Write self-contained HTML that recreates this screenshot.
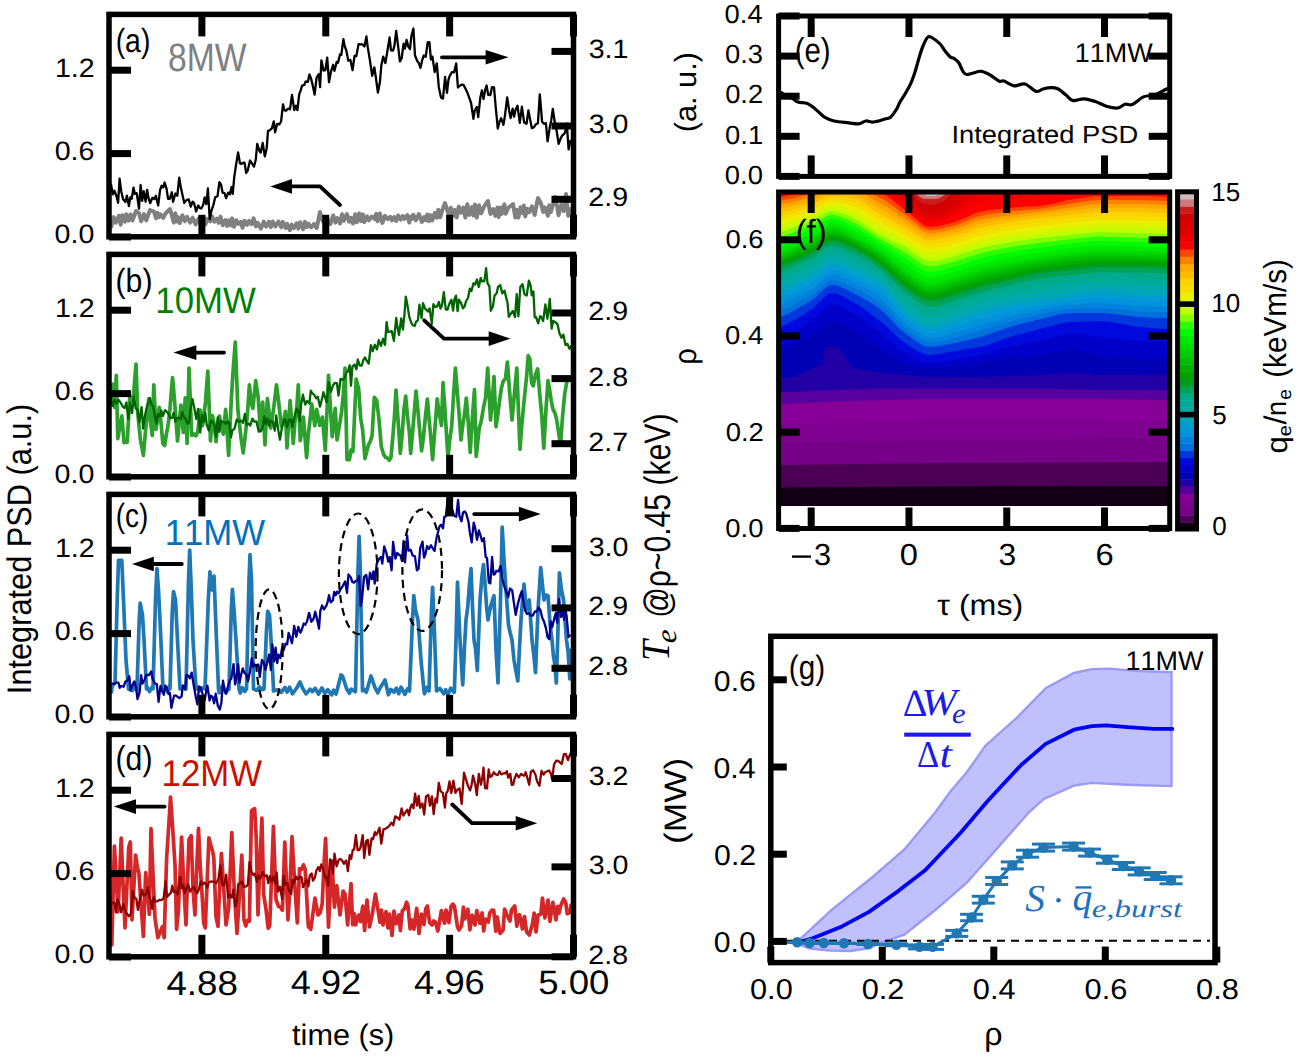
<!DOCTYPE html>
<html><head><meta charset="utf-8"><title>figure</title>
<style>html,body{margin:0;padding:0;background:#fff;width:1298px;height:1058px;overflow:hidden}
text{font-kerning:none;text-rendering:geometricPrecision}</style></head>
<body>
<svg width="1298" height="1058" viewBox="0 0 1298 1058" style="display:block">
<rect x="0" y="0" width="1298" height="1058" fill="#fff"/>
<defs><clipPath id="fclip"><rect x="779" y="192" width="390" height="336"/></clipPath><clipPath id="lclip0"><rect x="109" y="10" width="465" height="960"/></clipPath></defs>
<g clip-path="url(#fclip)"><path d="M780.0,190.0 1170.0,190.0 1170.0,506.0 781.0,506.0 779.0,506.0 779.0,190.0Z" fill="#130015" fill-rule="evenodd"/>
<path d="M780.0,190.0 1170.0,190.0 1170.0,486.0 953.0,486.5 781.0,487.5 779.0,487.5 779.0,190.0Z" fill="#4b0055" fill-rule="evenodd"/>
<path d="M780.0,190.0 1170.0,190.0 1170.0,462.0 949.0,463.0 781.0,465.0 779.0,465.0 779.0,190.0Z" fill="#770088" fill-rule="evenodd"/>
<path d="M780.0,190.0 1170.0,190.0 1170.0,438.0 781.0,442.0 779.0,442.0 779.0,190.0Z" fill="#7f0090" fill-rule="evenodd"/>
<path d="M780.0,190.0 1170.0,190.0 1170.0,421.0 1072.0,419.6 941.0,419.5 867.0,421.3 781.0,425.0 779.0,425.0 779.0,190.0Z" fill="#860097" fill-rule="evenodd"/>
<path d="M780.0,190.0 1170.0,190.0 1170.0,400.0 1098.0,399.0 921.0,399.0 850.8,401.0 781.0,404.0 779.0,404.0 779.0,190.0Z" fill="#58009f" fill-rule="evenodd"/>
<path d="M780.0,190.0 1170.0,190.0 1170.0,390.0 1097.0,390.0 1043.0,388.4 878.0,388.4 790.0,392.0 779.0,392.0 779.0,190.0Z" fill="#2300a6" fill-rule="evenodd"/>
<path d="M780.0,190.0 1170.0,190.0 1170.0,374.0 1143.0,375.0 1099.0,375.0 1077.0,373.2 1068.0,373.0 1040.0,375.0 985.0,376.9 921.0,376.7 875.0,372.0 862.6,370.0 855.0,368.0 851.0,365.8 848.0,362.8 844.0,355.3 839.0,347.7 838.0,347.0 827.0,347.0 826.0,348.0 825.0,350.6 823.0,362.0 821.0,364.2 814.2,368.0 804.0,372.3 797.0,376.0 790.0,378.0 779.0,378.0 779.0,190.0Z" fill="#0000b5" fill-rule="evenodd"/>
<path d="M780.0,190.0 1170.0,190.0 1170.0,358.0 1137.0,358.0 1122.0,357.2 1098.0,354.8 1079.6,351.0 1069.0,350.0 1060.1,351.0 1042.0,354.8 1010.0,358.0 977.0,363.5 955.0,366.0 938.0,368.6 930.0,369.0 925.0,368.7 919.0,367.5 904.0,362.7 899.0,360.5 892.0,356.7 879.0,348.5 864.0,337.0 855.0,331.0 842.5,324.0 838.0,322.1 834.0,321.2 831.0,321.1 828.0,322.0 824.9,324.0 813.0,333.7 801.0,339.7 786.0,345.8 783.0,346.7 779.0,347.0 779.0,190.0Z" fill="#0000c9" fill-rule="evenodd"/>
<path d="M780.0,190.0 1170.0,190.0 1170.0,342.0 1153.0,341.7 1133.0,340.6 1084.0,335.0 1068.0,334.1 1057.5,336.0 1041.0,340.8 1010.0,347.0 985.0,353.8 971.0,357.0 942.2,362.0 930.0,363.0 925.0,362.3 920.7,361.0 914.2,358.0 903.0,351.9 897.0,347.6 880.0,333.0 860.0,317.0 843.4,308.0 838.2,306.0 834.0,305.1 831.0,305.1 827.0,306.7 823.9,309.0 814.0,318.5 810.0,321.4 786.0,337.0 781.0,340.0 779.0,340.0 779.0,190.0Z" fill="#0009dd" fill-rule="evenodd"/>
<path d="M780.0,190.0 1170.0,190.0 1170.0,329.0 1157.0,328.5 1137.0,326.7 1111.5,322.0 1102.0,321.1 1069.0,322.1 1058.0,324.0 1017.0,335.0 1006.0,338.3 987.3,345.0 980.0,347.0 955.0,351.0 938.0,354.3 930.0,355.0 926.0,354.5 922.0,353.2 912.7,348.0 900.8,340.0 882.0,322.6 863.0,308.0 842.5,296.0 838.0,294.1 834.0,293.2 831.0,293.1 827.0,294.9 813.0,308.3 799.0,317.5 784.0,325.7 781.0,327.0 779.0,327.0 779.0,190.0Z" fill="#0038dd" fill-rule="evenodd"/>
<path d="M780.0,190.0 1170.0,190.0 1170.0,318.0 1152.0,317.7 1135.0,316.8 1114.2,314.0 1102.0,313.0 1070.0,313.0 1060.5,314.0 1016.9,325.0 1003.8,329.0 985.0,335.6 971.0,339.5 943.0,345.6 936.0,346.7 930.0,347.0 926.0,346.6 921.0,344.5 915.0,340.6 904.0,332.4 899.0,327.9 883.4,312.0 880.0,309.0 871.2,303.0 861.0,297.0 845.2,289.0 838.1,286.0 835.0,285.4 831.0,285.1 828.0,286.2 824.0,289.1 814.0,298.7 808.0,302.6 789.0,313.4 782.0,316.7 779.0,317.0 779.0,190.0Z" fill="#0070dd" fill-rule="evenodd"/>
<path d="M780.0,190.0 1170.0,190.0 1170.0,312.5 1138.0,311.4 1103.0,308.0 1088.0,308.3 1064.0,309.5 1054.0,311.3 1016.0,320.2 982.0,330.4 959.0,336.8 940.0,341.4 930.0,342.5 925.0,341.6 920.0,339.2 904.0,327.2 898.4,322.0 884.0,306.4 876.0,300.2 861.0,291.6 843.0,282.8 836.0,280.4 831.0,280.1 828.0,281.1 824.0,283.9 814.0,293.1 809.0,296.3 790.0,306.8 781.0,310.8 779.0,310.8 779.0,190.0Z" fill="#0082dd" fill-rule="evenodd"/>
<path d="M780.0,190.0 1170.0,190.0 1170.0,307.0 1138.0,305.9 1102.0,303.0 1090.0,303.4 1064.0,305.6 1034.0,311.2 1012.0,316.0 943.0,335.9 936.0,337.5 930.0,338.0 925.0,337.0 920.0,334.5 904.0,322.2 898.7,317.0 885.0,301.4 878.0,295.6 871.0,291.3 863.0,287.2 843.0,277.8 836.0,275.4 831.0,275.1 828.0,276.1 824.0,278.8 814.0,287.7 809.0,290.8 790.0,300.7 781.0,304.5 779.0,304.5 779.0,190.0Z" fill="#0092dd" fill-rule="evenodd"/>
<path d="M780.0,190.0 1170.0,190.0 1170.0,301.5 1139.0,300.5 1112.0,298.4 1100.0,298.0 1089.0,298.7 1063.0,301.8 1029.0,307.4 1004.0,312.6 978.0,319.6 941.0,331.7 935.0,333.1 930.0,333.5 925.0,332.5 920.0,329.9 904.0,317.2 898.9,312.0 886.0,296.4 882.0,292.5 879.0,290.3 865.9,283.0 843.0,272.7 837.0,270.6 832.0,270.0 828.0,271.0 824.0,273.7 815.0,281.5 810.0,284.6 791.0,294.2 781.0,298.2 779.0,298.2 779.0,190.0Z" fill="#009cd3" fill-rule="evenodd"/>
<path d="M780.0,190.0 1170.0,190.0 1170.0,296.0 1139.0,295.0 1106.0,293.1 1098.0,293.0 1090.0,293.7 1070.0,297.0 1030.0,302.5 1000.0,308.0 977.0,313.9 940.9,327.0 935.0,328.5 930.0,329.0 925.0,328.0 921.0,326.0 915.6,322.0 904.0,312.1 898.3,306.0 887.0,291.7 880.0,285.0 867.1,278.0 843.0,267.6 837.0,265.6 832.0,265.0 828.0,266.0 824.0,268.6 814.0,276.8 809.0,279.6 790.0,288.7 782.0,291.7 779.0,292.0 779.0,190.0Z" fill="#00a4bb" fill-rule="evenodd"/>
<path d="M780.0,190.0 1170.0,190.0 1170.0,290.4 1106.0,287.9 1097.0,287.9 1089.0,288.6 1072.0,291.3 1035.0,296.2 999.0,303.1 977.0,308.7 940.0,321.7 935.0,322.9 930.0,323.4 925.0,322.4 920.0,319.8 904.0,307.0 899.0,301.9 886.0,286.4 882.0,282.5 879.0,280.3 872.0,276.1 865.0,272.5 843.5,263.0 837.0,260.8 832.0,260.2 828.0,261.2 824.0,263.7 815.0,271.1 810.0,274.1 791.0,283.1 781.0,286.8 779.0,286.8 779.0,190.0Z" fill="#00aaa8" fill-rule="evenodd"/>
<path d="M780.0,190.0 1170.0,190.0 1170.0,284.8 1098.0,282.6 1090.0,283.3 1071.0,286.1 1042.0,289.5 1024.0,292.7 987.0,300.7 976.0,303.8 941.0,315.9 935.0,317.4 930.0,317.8 925.0,316.8 920.0,314.3 904.0,301.8 899.0,297.0 885.0,281.3 878.0,275.6 870.0,270.7 862.0,266.5 844.0,258.4 837.0,256.0 832.0,255.4 828.0,256.4 824.0,258.8 815.0,266.1 810.0,269.0 791.0,277.9 781.0,281.6 779.0,281.6 779.0,190.0Z" fill="#00aa98" fill-rule="evenodd"/>
<path d="M780.0,190.0 1170.0,190.0 1170.0,279.2 1097.0,277.5 1041.4,284.0 1027.0,286.6 986.0,295.8 976.0,298.6 941.0,310.4 935.0,311.8 930.0,312.2 927.0,311.8 923.0,310.4 914.0,304.5 901.0,294.0 883.0,275.4 875.0,269.6 867.0,264.6 859.0,260.4 844.0,253.6 837.0,251.2 832.0,250.6 828.0,251.6 824.0,254.0 815.0,261.1 810.0,264.0 791.0,272.8 781.0,276.4 779.0,276.4 779.0,190.0Z" fill="#00aa8b" fill-rule="evenodd"/>
<path d="M780.0,190.0 1170.0,190.0 1170.0,273.6 1143.0,272.6 1097.0,272.3 1041.0,278.5 1029.0,280.7 985.0,290.9 976.0,293.4 941.0,304.8 935.0,306.2 930.0,306.6 927.0,306.3 923.0,304.8 915.0,299.8 901.0,289.0 882.5,271.0 870.0,262.1 857.0,254.7 844.0,248.7 837.0,246.4 832.0,245.8 828.0,246.7 824.0,249.1 815.0,256.2 810.0,259.0 791.0,267.6 781.0,271.2 779.0,271.2 779.0,190.0Z" fill="#00a353" fill-rule="evenodd"/>
<path d="M780.0,190.0 1170.0,190.0 1170.0,268.0 1142.0,267.0 1098.0,267.0 1040.0,273.0 1029.8,275.0 1012.0,279.7 983.9,286.0 941.0,299.4 935.0,300.7 930.0,301.0 926.0,300.6 923.0,299.4 915.0,294.5 899.0,282.4 886.0,270.0 880.0,265.0 865.7,255.0 855.0,249.0 844.1,244.0 838.4,242.0 832.0,241.0 828.0,242.0 823.0,245.0 815.0,251.3 809.0,254.7 791.0,262.7 783.0,265.6 779.0,266.0 779.0,190.0Z" fill="#009d1d" fill-rule="evenodd"/>
<path d="M780.0,190.0 1170.0,190.0 1170.0,265.3 1143.0,264.4 1097.0,264.2 1041.0,270.2 1030.0,272.2 985.0,282.7 941.0,296.3 935.0,297.6 930.0,298.0 924.0,296.7 916.0,292.1 901.0,281.0 882.0,264.0 866.2,253.0 859.0,248.8 846.0,242.5 837.0,239.1 832.0,238.5 828.0,239.4 824.0,241.8 815.0,248.7 810.0,251.5 790.0,260.5 781.0,263.7 779.0,263.7 779.0,190.0Z" fill="#00a200" fill-rule="evenodd"/>
<path d="M780.0,190.0 1170.0,190.0 1170.0,262.7 1143.0,261.7 1097.0,261.4 1042.0,267.4 1028.0,269.9 987.0,279.2 976.0,282.2 941.0,293.3 935.0,294.6 930.0,295.0 924.0,293.7 917.0,289.8 901.0,278.0 882.0,261.5 867.0,251.2 859.0,246.6 845.0,239.7 836.0,236.4 832.0,236.0 828.0,236.9 824.0,239.3 814.0,246.8 809.0,249.5 790.0,258.1 781.0,261.3 779.0,261.3 779.0,190.0Z" fill="#00af00" fill-rule="evenodd"/>
<path d="M780.0,190.0 1170.0,190.0 1170.0,260.0 1142.0,259.0 1097.0,258.6 1088.0,259.2 1044.0,264.4 1027.0,267.3 989.0,275.7 977.0,278.9 941.0,290.3 935.0,291.6 930.0,292.0 924.0,290.7 917.0,286.7 901.0,275.1 882.0,258.9 868.6,250.0 860.0,245.0 845.0,237.4 836.0,234.0 832.0,233.5 828.0,234.4 824.0,236.7 814.0,244.3 809.0,247.0 790.0,255.7 781.0,259.0 779.0,259.0 779.0,190.0Z" fill="#00bf00" fill-rule="evenodd"/>
<path d="M780.0,190.0 1170.0,190.0 1170.0,257.3 1141.0,256.4 1097.0,255.7 1087.0,256.5 1047.0,261.4 1026.0,264.7 992.0,272.0 977.0,275.9 941.0,287.3 935.0,288.6 930.0,289.0 927.0,288.7 924.0,287.7 918.0,284.4 901.0,272.1 882.8,257.0 870.0,248.5 844.0,234.5 836.0,231.5 832.0,231.0 828.0,231.9 824.0,234.2 814.0,241.8 809.0,244.5 789.0,253.7 781.0,256.7 779.0,256.7 779.0,190.0Z" fill="#00cc00" fill-rule="evenodd"/>
<path d="M780.0,190.0 1170.0,190.0 1170.0,254.7 1098.0,252.9 1087.0,253.7 1052.0,258.0 1025.7,262.0 996.0,268.0 978.0,272.6 941.0,284.3 935.0,285.6 930.0,286.0 927.0,285.6 924.0,284.7 918.0,281.4 900.0,268.4 883.0,254.6 871.3,247.0 843.0,231.7 835.0,228.8 831.0,228.6 828.0,229.4 824.0,231.7 814.0,239.3 809.1,242.0 789.0,251.3 781.0,254.3 779.0,254.3 779.0,190.0Z" fill="#00dc00" fill-rule="evenodd"/>
<path d="M780.0,190.0 1170.0,190.0 1170.0,252.0 1122.0,250.3 1097.0,250.0 1089.0,250.5 1057.0,254.5 1024.0,259.4 998.0,264.4 978.0,269.4 942.0,281.0 938.0,282.0 930.0,283.0 925.0,282.0 919.0,279.0 902.0,266.9 885.0,253.4 873.0,245.6 843.0,229.2 836.0,226.4 831.0,226.0 827.0,227.3 812.0,238.0 791.1,248.0 781.0,252.0 779.0,252.0 779.0,190.0Z" fill="#00ea00" fill-rule="evenodd"/>
<path d="M780.0,190.0 1170.0,190.0 1170.0,247.5 1098.0,245.5 1088.0,246.2 1055.0,250.3 1022.0,254.9 998.0,259.4 978.0,264.3 959.0,270.6 941.0,275.9 935.0,277.1 930.0,277.5 925.0,276.5 920.0,274.0 883.0,248.2 865.0,237.1 843.0,225.4 835.0,222.5 831.0,222.3 828.0,223.1 824.0,225.3 814.0,232.4 809.0,235.0 788.0,244.3 781.0,247.0 779.0,247.0 779.0,190.0Z" fill="#00fa00" fill-rule="evenodd"/>
<path d="M780.0,190.0 1170.0,190.0 1170.0,243.0 1098.0,241.0 1088.0,241.7 1049.0,246.4 1019.0,250.5 995.0,254.9 978.0,259.0 959.0,265.4 942.0,270.2 936.0,271.5 930.0,272.0 926.0,271.4 921.0,269.1 907.0,259.2 860.0,230.1 843.0,221.4 836.0,219.0 832.0,218.5 828.0,219.3 824.0,221.3 814.0,227.9 810.0,229.9 788.0,239.4 781.0,242.0 779.0,242.0 779.0,190.0Z" fill="#2cff00" fill-rule="evenodd"/>
<path d="M780.0,190.0 1170.0,190.0 1170.0,238.5 1098.0,236.5 1089.0,237.1 1044.0,242.3 1016.0,246.0 993.0,250.2 978.0,253.8 959.0,260.1 943.0,264.5 936.0,266.0 930.0,266.5 926.0,265.8 921.0,263.5 907.0,253.7 879.0,238.2 858.0,224.8 843.0,217.5 836.0,215.2 831.0,214.8 827.0,215.9 814.0,223.5 810.0,225.4 787.0,234.8 781.0,237.0 779.0,237.0 779.0,190.0Z" fill="#84ff00" fill-rule="evenodd"/>
<path d="M780.0,190.0 1170.0,190.0 1170.0,234.0 1098.0,232.0 1040.0,238.0 1016.6,241.0 993.4,245.0 976.5,249.0 960.0,254.6 945.0,258.7 937.0,260.5 930.0,261.0 926.0,260.4 922.0,258.6 905.0,247.0 880.0,235.0 857.0,220.0 844.0,213.9 836.0,211.4 831.0,211.1 827.0,212.0 811.0,220.5 785.0,230.6 781.0,232.0 779.0,232.0 779.0,190.0Z" fill="#c0fd00" fill-rule="evenodd"/>
<path d="M780.0,190.0 1170.0,190.0 1170.0,229.8 1120.0,228.3 1097.0,228.1 1041.0,233.9 1014.0,237.4 992.0,241.3 978.0,244.5 959.0,250.9 945.0,254.6 937.0,256.2 930.0,256.8 926.0,256.1 921.0,253.9 906.0,243.7 879.0,230.2 858.0,216.4 845.0,210.9 837.0,208.5 832.0,208.0 828.0,208.7 810.0,217.6 787.0,226.1 781.0,228.0 779.0,228.0 779.0,190.0Z" fill="#d8f500" fill-rule="evenodd"/>
<path d="M780.0,190.0 1170.0,190.0 1170.0,225.6 1142.0,224.6 1097.0,224.1 1041.0,229.9 1015.0,233.2 993.0,237.1 978.0,240.5 956.0,247.8 940.0,251.5 930.0,252.6 926.0,252.0 921.0,249.8 906.0,239.9 879.0,226.0 859.0,212.8 846.6,208.0 838.0,205.6 832.0,205.0 828.0,205.7 810.0,214.4 789.0,221.6 781.0,224.0 779.0,224.0 779.0,190.0Z" fill="#ecef00" fill-rule="evenodd"/>
<path d="M780.0,190.0 1170.0,190.0 1170.0,221.4 1143.0,220.4 1097.0,220.1 1041.0,225.9 1015.0,229.2 993.0,233.1 978.0,236.5 956.0,243.8 940.0,247.4 930.0,248.4 925.0,247.5 920.0,245.1 906.0,236.1 879.0,221.8 865.0,212.2 859.0,208.6 850.0,205.5 840.0,202.8 833.0,202.0 828.0,202.6 824.0,204.3 814.0,209.6 810.0,211.1 790.0,217.6 781.0,220.0 779.0,220.0 779.0,190.0Z" fill="#f5df00" fill-rule="evenodd"/>
<path d="M780.0,190.0 1170.0,190.0 1170.0,217.2 1143.0,216.2 1097.0,216.1 1041.0,221.9 1015.0,225.2 994.0,228.9 978.0,232.5 956.0,239.8 940.0,243.2 930.0,244.2 925.0,243.3 920.0,241.1 907.0,232.9 879.0,217.6 865.0,207.9 860.0,205.0 855.0,203.0 843.0,200.2 835.0,199.1 829.0,199.4 824.0,201.2 814.0,206.4 809.0,208.2 790.0,213.9 781.0,216.0 779.0,216.0 779.0,190.0Z" fill="#fcd200" fill-rule="evenodd"/>
<path d="M780.0,190.0 1170.0,190.0 1170.0,213.0 1143.0,212.0 1097.0,212.1 1040.0,218.0 1016.6,221.0 993.4,225.0 978.0,228.5 956.0,235.8 939.0,239.3 930.0,240.0 925.0,239.2 919.0,236.5 906.0,228.5 880.0,214.0 861.0,201.3 856.0,199.3 850.0,198.0 837.0,196.2 829.0,196.4 824.0,198.2 814.6,203.0 809.0,204.9 791.0,209.9 782.0,211.8 779.0,212.0 779.0,190.0Z" fill="#ffbd00" fill-rule="evenodd"/>
<path d="M780.0,190.0 1170.0,190.0 1170.0,209.0 1141.0,208.0 1099.0,208.0 1089.0,208.7 1015.0,217.8 996.0,220.7 978.0,224.5 956.0,232.3 940.0,235.8 930.0,236.8 925.0,235.8 920.0,233.4 907.0,224.7 866.4,200.0 858.0,196.0 843.0,193.6 830.0,193.2 825.0,194.6 815.0,199.4 809.0,201.4 791.0,206.2 781.0,208.2 779.0,208.2 779.0,190.0Z" fill="#ffa900" fill-rule="evenodd"/>
<path d="M780.0,190.0 832.0,190.0 826.0,191.1 815.0,195.9 809.0,197.9 794.0,201.8 781.0,204.5 779.0,204.5 779.0,190.0ZM833.0,190.0 1170.0,190.0 1170.0,205.0 1141.0,204.0 1099.0,204.0 1089.0,204.7 1044.0,211.5 1011.0,214.9 990.0,218.0 977.0,220.8 956.0,228.7 940.0,232.5 930.0,233.5 926.0,232.8 921.0,230.5 907.0,220.3 887.0,207.1 863.5,194.0 859.0,192.3 855.0,191.5 842.0,190.3 832.0,190.0Z" fill="#ff8100" fill-rule="evenodd"/>
<path d="M780.0,190.0 821.0,190.0 814.0,192.9 809.0,194.3 794.0,198.1 781.0,200.8 779.0,200.8 779.0,190.0ZM865.0,190.0 1170.0,190.0 1170.0,201.0 1141.0,200.0 1099.0,200.0 1090.0,200.7 1067.0,204.2 1043.0,208.6 1009.0,211.6 986.0,214.8 976.0,217.1 956.0,225.2 940.0,229.2 930.0,230.2 926.0,229.5 921.0,227.0 907.0,215.9 885.0,200.3 864.4,190.0Z" fill="#ff4500" fill-rule="evenodd"/>
<path d="M780.0,190.0 812.0,190.0 781.0,197.0 779.0,197.0 779.0,190.0ZM876.0,190.0 1170.0,190.0 1170.0,197.0 1146.0,196.0 1092.0,196.3 1067.0,200.3 1051.3,204.0 1040.0,206.0 1014.0,207.4 988.0,210.3 978.0,212.3 975.0,213.3 962.8,219.0 955.0,222.0 939.3,226.0 930.0,227.0 926.0,226.2 921.9,224.0 908.0,212.3 889.0,197.5 883.0,193.5 875.6,190.0Z" fill="#fe0000" fill-rule="evenodd"/>
<path d="M887.0,190.0 1073.5,190.0 1042.0,195.5 1007.0,198.2 986.0,200.9 976.0,204.2 958.0,214.3 947.2,219.0 939.0,221.5 930.0,222.6 925.0,221.5 919.0,217.8 910.0,209.5 898.8,201.0 886.8,190.0Z" fill="#f10000" fill-rule="evenodd"/>
<path d="M893.0,190.0 991.1,190.0 984.0,191.6 977.0,194.7 954.1,210.0 945.0,214.9 938.0,217.2 930.0,218.2 925.0,217.1 919.0,213.7 911.0,205.8 899.0,196.9 892.4,190.0Z" fill="#e10000" fill-rule="evenodd"/>
<path d="M897.0,190.0 971.2,190.0 952.7,205.0 946.0,209.4 940.0,212.2 934.0,213.5 930.0,213.8 925.0,212.8 919.0,209.6 912.0,202.1 901.0,194.3 896.5,190.0Z" fill="#d80000" fill-rule="evenodd"/>
<path d="M901.0,190.0 962.3,190.0 951.0,200.7 944.0,205.7 938.0,208.1 930.0,209.4 926.0,208.8 920.0,206.1 918.0,204.5 912.0,197.6 900.9,190.0Z" fill="#d00000" fill-rule="evenodd"/>
<path d="M908.0,190.0 955.4,190.0 950.0,196.0 942.2,202.0 936.0,204.1 930.0,205.0 925.0,204.1 920.0,202.0 918.0,200.3 912.0,193.0 907.8,190.0Z" fill="#cc1c1c" fill-rule="evenodd"/>
<path d="M913.0,190.0 948.8,190.0 945.0,195.0 939.0,198.3 935.0,199.0 923.0,198.7 919.0,196.3 912.1,190.0Z" fill="#cc7c7c" fill-rule="evenodd"/>
<path d="M917.0,190.0 944.0,190.0 942.3,192.0 942.0,193.0 940.0,195.0 937.0,195.2 935.1,196.0 930.0,196.0 926.9,196.0 923.0,194.3 921.0,194.0 916.9,190.0Z" fill="#ccbcbc" fill-rule="evenodd"/></g>
<rect x="1178.0" y="522.41" width="18.0" height="7.59" fill="#130015"/>
<rect x="1178.0" y="515.23" width="18.0" height="7.59" fill="#4b0055"/>
<rect x="1178.0" y="508.04" width="18.0" height="7.59" fill="#770088"/>
<rect x="1178.0" y="500.85" width="18.0" height="7.59" fill="#7f0090"/>
<rect x="1178.0" y="493.67" width="18.0" height="7.59" fill="#860097"/>
<rect x="1178.0" y="486.48" width="18.0" height="7.59" fill="#58009f"/>
<rect x="1178.0" y="479.29" width="18.0" height="7.59" fill="#2300a6"/>
<rect x="1178.0" y="472.10" width="18.0" height="7.59" fill="#0000b5"/>
<rect x="1178.0" y="464.92" width="18.0" height="7.59" fill="#0000c9"/>
<rect x="1178.0" y="457.73" width="18.0" height="7.59" fill="#0009dd"/>
<rect x="1178.0" y="450.54" width="18.0" height="7.59" fill="#0038dd"/>
<rect x="1178.0" y="443.36" width="18.0" height="7.59" fill="#0070dd"/>
<rect x="1178.0" y="436.17" width="18.0" height="7.59" fill="#0082dd"/>
<rect x="1178.0" y="428.98" width="18.0" height="7.59" fill="#0092dd"/>
<rect x="1178.0" y="421.80" width="18.0" height="7.59" fill="#009cd3"/>
<rect x="1178.0" y="414.61" width="18.0" height="7.59" fill="#00a4bb"/>
<rect x="1178.0" y="407.42" width="18.0" height="7.59" fill="#00aaa8"/>
<rect x="1178.0" y="400.23" width="18.0" height="7.59" fill="#00aa98"/>
<rect x="1178.0" y="393.05" width="18.0" height="7.59" fill="#00aa8b"/>
<rect x="1178.0" y="385.86" width="18.0" height="7.59" fill="#00a353"/>
<rect x="1178.0" y="378.67" width="18.0" height="7.59" fill="#009d1d"/>
<rect x="1178.0" y="371.49" width="18.0" height="7.59" fill="#00a200"/>
<rect x="1178.0" y="364.30" width="18.0" height="7.59" fill="#00af00"/>
<rect x="1178.0" y="357.11" width="18.0" height="7.59" fill="#00bf00"/>
<rect x="1178.0" y="349.93" width="18.0" height="7.59" fill="#00cc00"/>
<rect x="1178.0" y="342.74" width="18.0" height="7.59" fill="#00dc00"/>
<rect x="1178.0" y="335.55" width="18.0" height="7.59" fill="#00ea00"/>
<rect x="1178.0" y="328.36" width="18.0" height="7.59" fill="#00fa00"/>
<rect x="1178.0" y="321.18" width="18.0" height="7.59" fill="#2cff00"/>
<rect x="1178.0" y="313.99" width="18.0" height="7.59" fill="#84ff00"/>
<rect x="1178.0" y="306.80" width="18.0" height="7.59" fill="#c0fd00"/>
<rect x="1178.0" y="299.62" width="18.0" height="7.59" fill="#d8f500"/>
<rect x="1178.0" y="292.43" width="18.0" height="7.59" fill="#ecef00"/>
<rect x="1178.0" y="285.24" width="18.0" height="7.59" fill="#f5df00"/>
<rect x="1178.0" y="278.06" width="18.0" height="7.59" fill="#fcd200"/>
<rect x="1178.0" y="270.87" width="18.0" height="7.59" fill="#ffbd00"/>
<rect x="1178.0" y="263.68" width="18.0" height="7.59" fill="#ffa900"/>
<rect x="1178.0" y="256.49" width="18.0" height="7.59" fill="#ff8100"/>
<rect x="1178.0" y="249.31" width="18.0" height="7.59" fill="#ff4500"/>
<rect x="1178.0" y="242.12" width="18.0" height="7.59" fill="#fe0000"/>
<rect x="1178.0" y="234.93" width="18.0" height="7.59" fill="#f10000"/>
<rect x="1178.0" y="227.75" width="18.0" height="7.59" fill="#e10000"/>
<rect x="1178.0" y="220.56" width="18.0" height="7.59" fill="#d80000"/>
<rect x="1178.0" y="213.37" width="18.0" height="7.59" fill="#d00000"/>
<rect x="1178.0" y="206.19" width="18.0" height="7.59" fill="#cc1c1c"/>
<rect x="1178.0" y="199.00" width="18.0" height="7.59" fill="#cc7c7c"/>
<rect x="1178.0" y="192.00" width="18.0" height="7.40" fill="#ccbcbc"/>
<rect x="1177.6" y="191.8" width="18.9" height="337.2" fill="none" stroke="#000" stroke-width="5"/>
<rect x="1178.0" y="301.3" width="18.0" height="5.6" fill="#000"/>
<rect x="1178.0" y="411.8" width="18.0" height="5.6" fill="#000"/>
<path d="M111.5,226.4 L113.5,217.1 L115.8,222.8 L118.8,215.7 L120.7,224.7 L122.4,215.3 L125.0,221.7 L126.3,214.2 L128.7,220.7 L130.6,214.4 L132.5,220.5 L136.0,211.0 L139.0,213.1 L141.2,221.2 L144.0,214.1 L146.3,220.4 L150.0,210.0 L154.0,211.6 L156.1,218.3 L157.6,212.9 L159.3,217.1 L160.8,214.4 L163.3,217.8 L165.6,213.3 L170.0,209.0 L173.8,222.5 L175.2,213.2 L176.8,221.6 L178.1,217.2 L179.7,223.0 L182.4,215.3 L184.9,221.2 L187.1,216.8 L190.1,222.7 L192.7,217.7 L195.7,224.4 L198.8,218.3 L201.6,222.8 L203.8,216.9 L205.3,224.5 L207.7,218.8 L210.3,221.3 L212.3,216.7 L214.4,221.7 L216.9,218.7 L218.8,222.8 L220.5,216.6 L222.9,225.2 L225.6,220.0 L227.2,225.9 L229.2,220.4 L230.7,225.5 L232.1,218.4 L234.1,226.8 L236.4,220.4 L238.3,223.9 L240.8,221.8 L242.5,227.8 L244.5,220.7 L247.1,224.9 L249.0,220.9 L251.6,224.2 L253.6,218.4 L256.0,226.4 L257.8,222.9 L260.8,228.7 L263.8,221.6 L266.2,226.6 L268.9,221.7 L270.8,227.0 L272.7,221.5 L275.4,226.5 L278.4,221.5 L281.1,227.1 L282.7,221.8 L285.6,228.0 L287.1,223.7 L289.9,230.2 L291.7,224.6 L293.8,228.1 L296.7,223.3 L298.4,228.6 L300.1,222.3 L303.1,229.3 L304.9,221.8 L306.8,227.1 L308.4,223.7 L311.2,227.4 L313.9,223.9 L316.7,228.0 L320.0,212.0 L322.4,219.9 L324.7,224.0 L327.8,220.3 L330.3,224.0 L333.3,215.5 L335.5,222.6 L337.4,218.0 L340.0,223.5 L342.1,214.3 L343.9,220.8 L346.9,214.1 L349.1,221.8 L351.0,217.8 L353.0,223.5 L355.2,214.3 L356.8,222.3 L359.2,213.4 L361.0,221.0 L362.8,214.4 L364.3,222.0 L367.1,216.3 L369.0,220.3 L371.9,216.6 L374.8,219.1 L376.2,213.8 L377.6,221.2 L379.9,213.5 L382.4,222.9 L384.9,215.8 L387.9,219.1 L390.4,216.8 L392.0,220.4 L394.2,217.0 L396.3,221.0 L398.1,215.5 L400.8,219.6 L402.6,216.1 L404.4,218.9 L407.4,215.1 L409.3,222.5 L410.6,216.8 L412.0,218.9 L413.3,214.7 L415.9,220.3 L418.9,214.0 L421.9,222.0 L424.2,217.0 L425.7,220.1 L427.2,214.5 L428.7,221.1 L430.6,215.2 L432.1,220.5 L434.8,213.0 L436.8,217.6 L438.3,209.7 L440.2,217.2 L442.7,209.0 L445.0,203.0 L449.0,215.7 L450.8,207.7 L453.4,215.8 L454.8,209.9 L456.8,217.5 L458.8,206.6 L461.1,212.8 L463.3,207.6 L465.4,217.6 L467.3,204.2 L469.4,214.9 L472.0,207.1 L473.4,215.4 L474.9,204.4 L476.8,217.6 L479.0,205.3 L481.2,213.3 L484.3,206.2 L488.0,201.0 L490.4,214.0 L493.1,209.0 L495.3,215.9 L497.4,207.6 L498.7,216.9 L500.2,207.4 L501.7,213.9 L504.4,204.4 L505.7,213.8 L508.3,207.7 L513.0,204.0 L515.4,217.6 L516.9,209.9 L518.4,217.5 L520.5,207.4 L522.3,213.2 L523.8,205.5 L525.2,216.5 L527.4,208.9 L529.2,212.3 L532.0,206.3 L534.6,215.0 L538.0,198.0 L540.9,203.3 L543.3,211.9 L544.9,207.4 L547.9,215.7 L549.2,205.3 L550.9,212.1 L555.0,197.0 L557.1,206.4 L558.5,215.2 L561.2,204.9 L563.8,211.1 L566.0,194.0 L568.3,215.8 L570.2,209.2" fill="none" stroke="#808080" stroke-width="4.0" stroke-linejoin="round" stroke-linecap="round" />
<path d="M111.0,184.3 L112.9,194.4 L114.5,190.8 L116.2,195.3 L118.1,202.8 L119.6,178.6 L121.3,191.7 L123.1,199.3 L125.4,202.1 L126.9,195.6 L128.9,206.0 L130.3,197.4 L131.7,198.8 L133.5,187.6 L134.9,193.9 L136.7,193.1 L139.0,208.7 L140.6,185.0 L142.2,200.9 L143.7,191.1 L145.6,201.6 L147.1,189.8 L148.5,198.2 L150.2,203.0 L152.4,197.7 L154.4,199.0 L155.9,195.7 L158.2,205.4 L160.0,190.3 L161.6,185.7 L163.3,187.5 L164.6,182.5 L166.5,188.3 L168.1,198.9 L169.7,198.8 L171.8,192.3 L173.1,201.8 L175.4,193.5 L177.3,195.8 L179.2,177.7 L180.8,187.2 L183.0,197.2 L184.3,202.9 L186.5,200.1 L188.7,199.4 L190.8,206.6 L192.6,201.6 L194.0,202.9 L196.1,211.4 L198.2,205.5 L199.9,208.1 L201.3,208.5 L203.1,205.3 L204.6,197.4 L206.3,204.2 L207.9,188.5 L209.7,219.2 L211.6,210.1 L213.3,205.3 L215.2,197.3 L217.5,196.3 L219.4,182.1 L221.1,184.7 L222.6,192.7 L224.5,193.2 L226.1,198.2 L228.2,192.6 L229.9,194.4 L231.5,187.0 L232.7,193.8 L234.2,177.5 L236.0,165.1 L238.1,152.5 L240.0,163.4 L241.5,163.9 L243.2,162.6 L244.5,162.6 L246.2,173.0 L247.8,170.3 L250.0,160.5 L252.1,163.6 L254.0,166.6 L255.8,159.5 L257.2,143.8 L259.3,150.7 L260.7,152.5 L262.7,142.9 L264.8,156.4 L266.7,148.2 L268.0,130.8 L269.7,130.3 L272.0,128.1 L273.8,121.4 L275.1,132.3 L277.1,123.9 L279.3,124.4 L281.1,121.5 L283.0,104.4 L284.5,110.3 L286.1,110.7 L288.1,108.6 L290.0,109.2 L292.0,95.0 L294.3,110.2 L296.0,105.8 L297.4,110.1 L299.2,94.4 L300.6,90.6 L302.1,85.7 L304.2,85.0 L305.7,81.5 L307.9,81.8 L309.4,74.5 L310.9,77.9 L312.3,83.5 L314.6,94.6 L316.6,77.5 L318.8,74.1 L320.1,87.2 L321.4,60.3 L323.5,70.5 L325.4,70.2 L327.2,57.6 L329.0,82.2 L330.9,71.8 L333.1,64.8 L334.5,70.8 L336.7,61.9 L338.0,62.7 L340.0,54.5 L341.3,54.9 L343.4,39.2 L344.8,46.4 L346.3,50.5 L348.3,60.7 L350.4,60.0 L352.6,70.2 L354.5,56.0 L356.3,56.1 L358.6,44.1 L360.4,44.4 L362.7,44.4 L364.5,46.5 L366.4,36.5 L367.7,46.9 L370.0,60.9 L372.2,75.8 L374.3,67.3 L375.8,77.0 L377.9,92.5 L379.9,82.3 L381.4,64.9 L383.2,56.6 L385.4,63.1 L387.6,49.6 L389.6,37.5 L391.0,50.4 L393.0,50.6 L394.4,45.9 L396.2,30.9 L398.1,46.2 L399.9,61.4 L401.7,58.2 L403.6,43.6 L405.0,48.6 L406.6,40.0 L408.3,46.6 L410.0,49.0 L411.4,36.0 L413.4,28.5 L415.0,55.5 L417.3,61.1 L418.8,63.2 L420.5,67.8 L422.0,60.9 L423.7,55.5 L425.7,56.8 L427.7,42.3 L429.4,42.2 L430.9,59.4 L432.4,56.6 L434.7,72.1 L436.8,63.3 L438.8,87.2 L441.1,97.8 L443.0,98.6 L445.1,76.9 L447.0,92.9 L448.4,80.1 L449.8,75.7 L451.8,72.2 L454.1,72.3 L456.2,63.5 L457.9,87.5 L459.9,85.7 L461.6,84.6 L463.6,84.9 L465.5,88.7 L467.2,92.2 L469.1,97.3 L471.1,103.0 L473.4,118.8 L474.6,110.8 L476.8,107.0 L478.2,117.1 L480.3,97.6 L481.9,90.4 L483.5,99.0 L485.1,90.2 L486.6,85.5 L488.2,94.8 L490.4,95.0 L492.0,87.1 L494.0,87.4 L495.9,109.0 L497.8,128.6 L499.4,121.9 L501.1,118.2 L503.4,124.8 L504.9,116.1 L507.2,97.3 L509.2,110.9 L510.6,118.1 L512.6,108.7 L514.1,116.7 L515.5,110.0 L517.5,105.8 L519.8,122.8 L521.9,106.7 L524.2,122.6 L526.5,123.8 L528.4,110.5 L530.1,119.5 L531.9,128.2 L534.0,127.2 L536.1,124.0 L537.9,123.5 L539.8,94.4 L542.1,121.8 L543.9,123.8 L545.9,123.2 L547.6,141.4 L549.8,127.1 L551.2,120.7 L552.8,108.8 L554.7,121.6 L556.6,130.7 L558.6,143.8 L560.2,139.5 L562.0,135.7 L563.5,134.5 L565.0,132.8 L566.8,123.7 L568.6,149.4 L570.5,140.8" fill="none" stroke="#000" stroke-width="2.3" stroke-linejoin="round" stroke-linecap="round" />
<path d="M112.6,384.0 L114.6,407.4 L116.3,375.4 L117.8,438.6 L119.9,425.7 L121.9,416.0 L124.0,442.7 L125.6,441.5 L127.2,442.4 L129.8,396.0 L131.4,401.5 L133.0,401.4 L136.0,364.0 L137.7,412.7 L140.6,441.0 L143.4,455.5 L145.5,431.2 L148.7,398.6 L150.5,421.9 L152.3,435.4 L153.8,384.8 L156.0,429.3 L159.2,407.4 L161.0,422.8 L162.9,443.8 L164.6,445.6 L166.4,434.0 L168.2,424.6 L169.9,409.7 L172.5,377.5 L174.2,396.2 L175.8,417.2 L177.5,441.0 L179.2,422.8 L180.9,405.2 L183.3,432.4 L185.2,397.9 L187.1,443.4 L189.0,368.0 L191.7,435.4 L193.9,433.9 L196.0,435.8 L197.7,432.0 L200.2,410.2 L202.6,425.6 L205.5,402.0 L207.8,371.0 L210.5,441.0 L212.4,415.6 L214.2,424.1 L216.1,441.7 L217.8,422.7 L219.4,416.1 L221.4,427.2 L223.3,434.1 L225.7,409.3 L228.6,455.5 L231.3,399.6 L233.3,367.8 L235.3,342.2 L237.9,410.3 L241.0,437.7 L243.2,453.0 L245.6,432.2 L247.5,413.2 L249.4,384.8 L251.2,402.9 L252.9,408.4 L255.7,380.6 L258.2,397.5 L260.3,429.4 L262.7,402.1 L265.0,445.0 L267.4,398.6 L269.0,411.9 L270.7,428.1 L273.7,408.0 L276.5,384.8 L278.9,404.1 L281.4,426.2 L283.4,423.1 L285.4,411.4 L287.0,448.0 L290.1,400.5 L293.3,443.4 L294.9,422.1 L296.6,410.3 L298.3,384.8 L300.2,440.6 L301.8,431.1 L303.4,417.0 L306.6,457.6 L308.3,434.4 L310.0,420.0 L311.7,403.8 L314.8,425.7 L316.7,409.3 L319.7,425.3 L322.4,417.1 L325.3,450.3 L328.5,375.4 L330.3,405.2 L332.2,436.7 L335.2,408.3 L337.0,440.0 L339.3,426.7 L341.6,411.7 L343.3,394.2 L345.0,368.0 L347.0,459.7 L349.4,459.7 L351.1,449.9 L352.9,451.6 L354.6,415.1 L356.2,379.2 L358.7,389.0 L360.7,418.2 L362.6,429.7 L365.0,458.6 L366.8,451.4 L368.5,444.8 L370.3,441.4 L372.1,435.5 L374.3,397.3 L376.7,400.4 L379.0,419.5 L381.3,446.6 L383.6,454.4 L385.8,457.6 L387.5,458.1 L389.3,460.3 L391.0,457.4 L392.7,438.4 L394.3,418.6 L396.0,390.0 L398.1,420.6 L400.3,453.4 L402.1,435.4 L403.9,409.5 L405.7,396.1 L407.5,416.6 L409.2,430.5 L410.7,453.4 L412.5,433.3 L414.2,413.2 L416.0,391.0 L417.9,409.9 L419.7,430.7 L421.6,450.8 L423.5,436.8 L425.5,415.8 L427.4,399.0 L429.1,419.6 L430.9,438.6 L432.6,459.7 L434.9,428.9 L437.2,398.9 L439.4,414.6 L441.5,425.4 L443.0,382.7 L444.7,405.8 L446.3,431.1 L448.0,457.6 L449.8,439.6 L451.7,426.2 L453.5,396.0 L455.4,368.0 L457.3,391.9 L459.1,414.1 L461.0,440.0 L462.8,425.1 L464.5,414.4 L466.3,398.0 L468.3,423.1 L470.2,452.3 L472.3,419.1 L474.5,389.5 L476.2,456.5 L479.2,428.3 L481.3,420.9 L483.5,407.4 L485.6,397.7 L487.7,368.0 L490.5,420.0 L491.9,405.8 L494.0,376.5 L496.0,426.8 L497.7,415.6 L499.4,402.1 L501.4,388.0 L503.4,380.8 L505.4,379.0 L507.4,362.0 L509.7,393.0 L512.0,420.0 L514.4,394.2 L516.8,368.0 L518.4,409.5 L520.0,449.3 L521.6,427.4 L523.3,409.2 L524.9,392.9 L526.6,376.6 L528.2,355.7 L529.9,359.2 L531.6,382.6 L533.2,385.9 L535.4,375.0 L537.6,369.0 L539.7,394.2 L541.7,414.6 L543.8,448.2 L545.9,410.6 L548.0,380.6 L549.7,390.3 L551.3,401.1 L553.0,409.5 L554.8,412.6 L556.6,419.3 L558.4,431.3 L560.5,445.0 L562.6,415.9 L564.7,393.9 L566.7,382.7" fill="none" stroke="#2ca02c" stroke-width="3.7" stroke-linejoin="round" stroke-linecap="round" />
<path d="M111.0,398.2 L112.7,405.9 L114.7,399.5 L116.5,403.7 L118.6,399.9 L120.9,403.1 L123.0,406.9 L124.6,408.1 L126.4,402.5 L128.2,419.1 L130.1,402.9 L132.1,413.0 L133.9,396.7 L135.8,408.4 L137.6,410.2 L139.3,422.3 L141.6,407.1 L143.1,428.7 L145.0,415.4 L146.9,406.4 L148.8,401.6 L150.0,398.0 L151.8,405.6 L153.1,406.1 L154.9,416.1 L156.4,423.5 L157.9,414.1 L159.8,416.4 L161.3,410.5 L162.9,416.0 L165.0,410.2 L166.8,411.6 L168.9,414.7 L170.3,418.1 L172.2,417.9 L173.7,412.7 L175.3,421.6 L176.9,418.1 L178.8,417.8 L180.5,419.2 L182.3,412.2 L184.1,417.8 L185.5,418.5 L187.3,423.6 L189.1,422.5 L190.6,408.6 L192.4,399.1 L194.2,407.3 L196.3,419.0 L198.1,409.0 L200.2,432.5 L202.0,415.0 L203.7,421.9 L205.2,412.6 L206.7,424.5 L208.8,430.5 L211.0,420.3 L212.6,421.7 L214.7,426.1 L216.0,436.8 L217.8,417.4 L219.3,431.9 L220.9,420.8 L222.3,421.8 L224.3,422.2 L225.9,423.9 L227.6,421.5 L229.2,423.1 L230.9,437.4 L232.4,430.2 L234.5,428.8 L236.8,419.5 L239.1,421.9 L241.4,420.6 L243.0,422.9 L244.9,413.8 L246.4,424.7 L248.3,423.4 L250.2,425.6 L252.4,418.6 L254.3,421.6 L256.5,421.4 L258.7,431.5 L260.6,431.3 L262.7,427.7 L264.2,416.4 L265.7,424.1 L267.4,418.7 L269.3,426.0 L270.6,420.8 L272.8,421.7 L274.8,430.7 L276.2,415.5 L278.4,430.9 L279.9,439.7 L282.0,427.2 L283.6,421.6 L285.2,419.2 L287.1,427.2 L288.9,420.0 L290.9,419.6 L292.5,426.9 L294.8,415.2 L296.5,408.5 L298.4,411.4 L299.7,421.4 L301.1,404.6 L302.9,394.7 L305.2,404.6 L307.1,401.0 L309.4,403.6 L310.8,390.6 L312.2,393.2 L314.2,394.8 L316.1,398.3 L317.8,396.8 L320.0,406.7 L322.0,398.9 L323.4,392.1 L325.4,398.4 L326.8,402.4 L328.7,382.3 L330.9,392.0 L332.9,385.6 L334.7,382.8 L336.9,383.1 L338.5,395.7 L340.5,378.8 L341.9,379.8 L344.1,379.2 L346.2,373.0 L347.9,371.4 L349.7,365.3 L351.0,385.7 L352.4,366.8 L354.5,364.5 L356.4,369.3 L357.8,359.5 L359.8,365.7 L361.7,365.6 L363.4,359.8 L365.0,357.5 L366.9,361.1 L368.7,363.5 L370.9,345.1 L372.7,351.2 L374.8,344.8 L377.0,349.4 L378.7,340.2 L380.9,345.9 L383.1,338.8 L385.0,344.8 L386.6,322.2 L388.0,332.1 L389.8,331.7 L391.8,331.2 L393.9,340.8 L396.2,318.0 L397.6,328.1 L399.0,334.8 L401.2,318.3 L402.9,329.6 L404.4,314.8 L405.8,296.7 L407.5,305.5 L409.2,316.7 L411.2,322.6 L412.9,325.3 L414.7,326.0 L416.1,321.7 L417.9,320.4 L419.4,304.6 L421.5,318.1 L423.0,303.1 L425.0,308.6 L426.6,309.9 L427.9,311.5 L429.6,308.4 L431.8,323.8 L433.4,304.2 L434.9,306.9 L437.1,306.5 L438.9,302.0 L440.5,308.6 L441.9,305.8 L443.8,292.2 L445.8,309.7 L447.5,309.6 L449.8,302.7 L451.4,299.7 L453.1,310.6 L454.4,299.5 L456.0,295.6 L457.6,311.1 L458.9,299.6 L461.1,303.0 L463.0,308.4 L464.6,306.4 L466.1,301.0 L468.0,298.0 L469.8,288.7 L471.4,291.1 L473.5,283.2 L475.2,284.5 L476.9,279.5 L478.8,286.9 L480.7,278.0 L482.0,281.3 L484.3,281.1 L486.1,268.1 L487.5,283.2 L489.4,286.3 L490.8,310.8 L492.9,306.6 L494.5,295.6 L496.7,293.3 L498.0,286.9 L500.2,285.1 L502.4,293.4 L504.5,290.6 L505.8,296.1 L507.5,302.7 L508.8,316.9 L510.9,313.7 L512.8,310.9 L515.0,317.1 L516.7,294.1 L518.4,316.3 L520.3,287.0 L522.5,284.2 L524.5,294.2 L526.7,295.5 L528.9,280.6 L530.6,285.3 L531.8,295.4 L533.4,291.5 L534.7,317.3 L536.0,317.2 L538.2,323.3 L540.2,316.0 L541.8,317.8 L543.1,321.0 L545.4,304.5 L547.4,318.5 L549.8,298.8 L551.6,328.7 L553.2,321.0 L555.3,322.2 L557.6,324.4 L559.4,333.3 L561.5,337.7 L563.4,334.7 L565.5,344.9 L567.5,343.9 L569.5,348.9 L571.0,346.3" fill="none" stroke="#006400" stroke-width="2.3" stroke-linejoin="round" stroke-linecap="round" />
<path d="M111.5,692.2 L112.0,686.0 L115.0,683.0 L117.2,600.0 L118.5,560.3 L121.8,560.3 L123.5,600.0 L126.0,660.0 L128.5,689.0 L132.3,690.7 L134.4,686.8 L137.0,690.5 L137.0,689.0 L139.2,620.0 L140.2,603.0 L142.5,615.0 L144.0,640.0 L146.5,689.0 L147.2,687.1 L149.5,691.6 L152.9,685.9 L153.0,689.0 L155.5,600.0 L156.9,568.6 L158.5,590.0 L160.0,620.0 L163.0,689.0 L164.2,686.2 L167.6,692.2 L169.6,685.4 L170.0,689.0 L172.3,610.0 L173.5,591.5 L175.5,600.0 L177.0,630.0 L180.0,689.0 L182.8,687.5 L186.0,689.0 L188.5,580.0 L189.7,550.0 L191.3,590.0 L193.0,640.0 L196.0,689.0 L196.4,685.6 L199.6,690.8 L203.0,687.9 L205.0,689.0 L208.3,600.0 L209.9,571.8 L212.0,590.0 L214.0,576.0 L216.5,640.0 L218.5,689.0 L219.1,692.8 L222.7,685.6 L225.7,692.4 L229.0,689.0 L231.3,610.0 L232.4,589.4 L234.0,610.0 L236.0,640.0 L239.0,689.0 L240.2,693.0 L242.4,687.6 L244.8,691.5 L246.5,689.0 L249.0,580.0 L250.0,554.5 L251.5,580.0 L253.5,689.0 L256.6,690.4 L259.4,686.9 L262.2,689.7 L264.0,689.0 L266.5,630.0 L267.7,611.3 L269.5,615.0 L270.5,630.0 L273.5,689.0 L273.5,691.0 L277.2,689.8 L281.2,692.4 L285.0,687.4 L287.0,692.1 L289.6,687.2 L292.4,693.9 L296.4,688.5 L300.0,682.0 L302.4,687.7 L306.0,693.9 L310.1,689.2 L312.4,691.6 L315.3,688.3 L318.5,694.2 L321.9,688.0 L324.9,693.4 L327.8,689.6 L331.7,694.9 L333.6,690.1 L336.0,694.1 L337.8,687.5 L341.0,675.0 L342.5,676.0 L346.6,688.7 L349.4,693.2 L351.2,689.1 L355.2,691.7 L355.5,691.0 L358.0,570.0 L359.1,536.4 L360.3,570.0 L362.5,691.0 L363.8,689.3 L366.3,692.2 L371.0,676.0 L374.9,687.4 L377.8,692.9 L379.7,688.6 L385.0,680.0 L388.4,694.8 L390.8,689.5 L393.9,692.2 L396.4,688.3 L398.8,693.7 L401.1,687.2 L404.9,694.4 L407.4,689.0 L409.5,691.0 L412.5,620.0 L413.8,595.7 L415.5,610.0 L418.0,620.0 L421.0,660.0 L424.0,691.0 L424.6,693.8 L426.6,687.5 L429.0,691.0 L431.5,610.0 L432.6,587.4 L434.0,620.0 L436.5,691.0 L439.9,688.4 L443.8,693.7 L445.7,689.7 L448.0,694.5 L450.7,688.1 L454.1,692.4 L454.4,691.0 L455.9,643.4 L457.5,582.2 L460.0,640.0 L462.7,685.0 L464.4,648.9 L466.0,620.0 L467.7,607.1 L469.3,586.3 L471.0,568.6 L472.5,606.6 L474.0,640.0 L475.6,649.3 L477.3,670.5 L480.0,600.0 L481.8,577.8 L483.5,564.5 L485.0,583.3 L486.5,605.7 L488.0,620.0 L489.5,611.8 L491.0,605.0 L492.5,600.2 L494.0,595.7 L496.0,650.0 L498.0,683.0 L500.5,600.0 L502.2,527.0 L504.0,560.0 L505.5,582.9 L507.0,604.0 L508.5,624.8 L510.2,633.0 L512.0,640.0 L514.0,660.0 L515.9,670.9 L517.8,681.0 L519.4,649.9 L521.0,620.0 L522.5,600.8 L524.0,584.2 L526.5,610.0 L529.3,600.0 L532.0,640.0 L533.8,654.7 L535.5,672.6 L538.0,610.0 L540.7,567.6 L542.4,584.3 L544.0,600.0 L546.0,595.1 L548.0,595.7 L550.0,623.7 L552.0,640.0 L553.4,655.6 L554.9,664.8 L556.3,683.0 L557.8,636.0 L559.4,572.8 L561.5,590.0 L563.6,600.0 L565.0,619.9 L566.5,640.0 L568.1,651.8 L569.8,678.9 L571.0,650.0" fill="none" stroke="#1f77b4" stroke-width="3.7" stroke-linejoin="round" stroke-linecap="round" />
<path d="M112.2,683.7 L114.4,683.7 L116.4,682.4 L118.5,682.8 L119.7,687.8 L121.0,686.0 L122.3,686.3 L123.6,686.8 L125.3,681.8 L127.3,680.5 L129.3,676.3 L130.6,690.1 L132.6,684.9 L134.4,681.4 L136.0,687.2 L137.5,699.2 L139.7,691.9 L141.1,675.2 L142.5,683.5 L144.6,679.8 L146.2,675.2 L147.7,674.9 L149.0,675.1 L151.3,671.4 L152.6,679.0 L154.6,683.0 L156.8,684.2 L158.6,701.9 L160.5,685.8 L162.4,691.8 L163.8,694.7 L165.4,685.6 L166.8,687.6 L168.6,694.0 L169.9,692.9 L171.4,707.8 L172.8,701.0 L174.1,695.7 L176.0,695.6 L178.1,697.2 L179.4,698.1 L181.6,696.3 L182.9,685.3 L185.1,689.4 L186.4,675.2 L188.6,675.9 L189.9,678.4 L191.7,672.6 L193.6,684.5 L195.7,696.5 L197.4,704.3 L199.0,686.6 L200.5,687.1 L202.8,694.5 L204.7,700.1 L206.0,692.4 L207.4,685.6 L209.6,700.5 L211.0,695.8 L212.6,696.9 L214.1,703.3 L215.7,693.7 L217.9,706.0 L219.8,709.5 L221.4,702.4 L223.0,680.6 L224.8,691.0 L226.1,693.8 L228.4,684.7 L229.9,680.2 L231.3,678.7 L233.5,664.2 L235.1,684.4 L236.5,677.7 L238.0,664.1 L239.6,682.6 L241.0,675.1 L242.8,668.3 L244.4,673.0 L246.4,674.3 L248.0,681.3 L249.9,671.7 L251.8,658.2 L253.1,666.8 L254.5,664.5 L256.9,665.9 L258.3,664.5 L259.8,676.8 L261.9,660.0 L263.6,662.1 L265.4,669.7 L267.5,661.7 L269.1,654.5 L270.9,670.0 L272.3,644.4 L274.3,661.3 L275.6,647.7 L277.2,663.0 L278.5,654.6 L280.4,658.1 L282.2,647.3 L283.6,650.1 L285.6,643.7 L287.2,644.2 L288.6,633.0 L290.1,636.9 L292.0,643.2 L294.2,626.0 L296.3,636.8 L298.3,626.8 L300.4,632.7 L301.9,629.5 L303.7,623.5 L305.3,624.7 L306.9,621.8 L309.1,612.9 L311.3,621.8 L313.6,618.7 L315.2,611.7 L316.9,618.4 L319.0,628.6 L320.3,611.2 L322.1,605.4 L323.9,609.4 L326.2,606.0 L327.7,601.9 L329.0,595.1 L330.7,602.3 L332.9,600.3 L334.2,592.0 L335.7,595.2 L337.0,591.7 L338.5,593.5 L340.7,589.0 L342.9,585.8 L345.2,581.4 L347.0,592.9 L348.5,574.5 L350.8,577.4 L352.3,581.9 L354.0,582.6 L355.8,580.8 L357.7,580.8 L359.1,576.0 L360.7,605.7 L362.0,599.1 L364.1,576.8 L366.3,574.9 L368.1,589.4 L370.0,572.6 L371.9,579.1 L373.4,571.4 L374.7,583.6 L376.7,563.8 L378.8,559.3 L381.0,556.9 L382.3,563.6 L384.2,546.4 L386.5,553.3 L388.2,561.6 L389.7,557.0 L391.6,570.3 L393.1,541.8 L395.4,558.5 L397.3,553.0 L398.8,554.5 L400.4,555.4 L402.0,560.9 L403.5,541.2 L405.0,562.4 L407.2,535.7 L408.5,550.6 L410.7,549.8 L412.6,555.4 L414.9,556.3 L416.9,570.4 L418.6,568.6 L420.2,548.1 L422.5,541.7 L424.0,557.7 L425.5,554.0 L427.1,546.1 L429.1,548.8 L431.0,545.2 L433.3,549.3 L434.6,550.9 L436.4,538.6 L437.8,532.9 L439.5,526.3 L441.0,524.8 L443.0,528.3 L444.3,516.9 L445.8,516.5 L447.4,501.8 L449.2,503.8 L450.7,506.2 L452.7,511.1 L454.2,516.0 L456.3,516.8 L458.1,499.8 L459.4,515.8 L461.5,521.3 L463.0,512.5 L464.8,511.4 L466.2,513.6 L468.5,521.9 L469.8,532.2 L471.7,542.4 L473.7,522.6 L475.1,527.3 L477.0,539.8 L478.8,530.3 L480.1,534.1 L482.1,541.2 L483.9,538.1 L485.7,557.1 L487.0,557.7 L488.8,582.4 L490.3,583.3 L492.1,557.0 L493.6,574.6 L495.0,573.9 L496.4,570.7 L498.5,571.5 L500.6,566.0 L502.2,578.2 L504.5,587.0 L506.5,592.4 L508.1,597.2 L510.0,588.5 L512.2,590.3 L513.7,601.3 L515.7,614.9 L518.0,603.4 L520.3,595.1 L521.8,591.1 L523.8,603.9 L525.4,611.0 L527.0,613.9 L528.8,612.9 L530.7,615.6 L532.7,615.7 L534.9,611.5 L537.1,611.4 L538.5,607.5 L540.4,610.0 L542.2,617.7 L544.0,621.6 L546.0,628.4 L547.6,637.3 L549.3,639.2 L550.8,621.4 L552.2,627.1 L554.4,617.9 L555.8,613.1 L557.2,622.7 L559.0,599.1 L560.9,616.9 L562.5,610.8 L564.0,619.6 L565.3,608.8 L566.5,615.2 L568.5,637.0 L569.8,635.5" fill="none" stroke="#00008b" stroke-width="2.3" stroke-linejoin="round" stroke-linecap="round" />
<path d="M111.8,945.0 L114.4,846.0 L116.0,872.8 L118.0,912.0 L119.6,877.0 L121.2,838.0 L123.1,885.2 L125.0,928.0 L126.9,886.4 L128.8,847.0 L130.3,842.0 L132.0,920.0 L133.8,888.3 L135.6,855.0 L137.3,866.8 L138.9,873.3 L141.2,907.3 L143.4,936.5 L145.7,872.7 L147.5,890.5 L149.3,914.3 L151.0,828.5 L152.8,869.6 L155.0,918.4 L157.9,937.6 L160.1,932.2 L162.4,926.7 L164.2,937.6 L166.6,858.5 L168.6,828.0 L170.5,797.0 L172.8,830.1 L175.0,864.8 L176.6,929.3 L178.4,910.7 L181.6,837.0 L183.8,885.3 L186.0,925.0 L189.0,839.5 L191.2,835.7 L193.1,890.8 L195.0,915.0 L196.8,865.6 L198.5,828.4 L200.2,866.3 L202.0,893.2 L203.7,923.0 L205.3,927.9 L207.1,882.7 L208.9,837.8 L210.5,844.4 L212.2,849.7 L213.8,857.5 L216.0,916.8 L218.0,926.3 L219.7,886.6 L221.4,853.4 L224.3,897.1 L226.0,925.0 L228.7,907.7 L231.8,832.6 L234.4,893.0 L237.0,933.4 L239.8,889.5 L241.8,855.0 L244.0,920.0 L245.8,925.9 L247.6,920.3 L249.4,921.0 L251.5,810.7 L254.6,808.6 L256.2,836.9 L258.0,915.0 L259.9,862.6 L261.9,818.0 L263.7,894.6 L266.0,909.3 L268.2,928.2 L269.7,925.7 L271.5,879.2 L273.4,826.3 L276.0,899.5 L278.5,906.4 L280.5,907.1 L282.4,910.2 L284.8,842.0 L288.0,920.0 L290.0,887.2 L292.0,836.7 L295.1,890.0 L297.3,923.0 L299.6,868.7 L301.5,869.6 L303.5,864.8 L305.2,869.4 L308.3,926.5 L310.8,929.3 L312.9,913.8 L315.0,898.0 L318.0,915.0 L320.1,912.7 L322.2,904.0 L323.9,866.6 L325.6,838.4 L328.5,927.2 L330.3,890.5 L332.0,861.4 L334.4,907.1 L336.8,885.6 L340.0,915.0 L343.1,891.1 L345.0,894.0 L347.6,924.8 L349.3,904.7 L351.0,883.5 L352.7,924.7 L354.2,913.5 L355.7,924.9 L357.3,917.7 L359.0,915.0 L360.4,921.7 L362.8,906.2 L364.6,930.5 L367.0,900.0 L369.5,926.9 L372.4,913.4 L375.4,894.0 L377.6,907.2 L379.9,922.2 L381.4,910.1 L383.0,925.0 L386.0,911.6 L387.9,927.9 L389.5,914.1 L392.0,935.5 L394.0,911.0 L396.2,923.6 L399.0,915.0 L400.4,930.6 L402.3,910.9 L404.4,908.9 L406.6,902.2 L408.0,906.1 L410.1,928.8 L412.0,920.0 L413.9,929.2 L416.7,908.3 L419.0,933.4 L421.5,914.1 L424.0,924.6 L425.7,909.0 L427.4,906.0 L429.6,922.7 L432.0,925.0 L433.7,921.0 L435.5,922.1 L437.8,931.0 L439.3,922.8 L441.4,910.5 L444.5,923.2 L446.0,910.0 L448.9,922.7 L451.0,906.8 L452.7,904.1 L454.4,906.0 L457.5,926.9 L459.0,930.0 L461.6,925.8 L463.4,907.1 L464.8,919.0 L467.9,909.3 L469.9,929.9 L472.1,915.2 L475.0,925.0 L476.8,910.6 L479.9,923.4 L482.1,913.0 L483.7,931.0 L485.6,919.0 L488.3,922.0 L489.8,912.9 L492.0,910.0 L493.7,910.4 L495.8,931.2 L497.2,916.9 L500.0,933.4 L503.1,930.0 L504.6,909.2 L507.0,915.0 L510.0,921.1 L511.5,910.0 L514.7,906.0 L516.9,926.2 L519.3,914.6 L521.0,920.0 L522.4,929.0 L524.5,916.6 L526.5,931.6 L529.3,935.0 L532.5,923.7 L534.1,913.1 L536.0,932.0 L538.0,915.0 L540.8,914.4 L542.4,898.1 L544.9,918.0 L548.0,900.0 L549.9,921.4 L552.9,902.3 L556.0,920.0 L557.6,906.3 L559.0,913.2 L560.4,906.5 L563.6,899.0 L565.7,902.2 L567.2,913.7 L569.8,912.6 L571.0,905.0" fill="none" stroke="#d62728" stroke-width="3.7" stroke-linejoin="round" stroke-linecap="round" />
<path d="M112.2,903.2 L114.4,902.4 L116.0,912.3 L117.3,899.7 L119.3,903.6 L121.2,912.3 L123.3,904.0 L125.4,911.7 L127.7,914.6 L128.9,916.2 L131.0,913.4 L132.7,890.8 L134.8,898.2 L136.3,898.6 L137.9,909.9 L140.3,896.9 L142.0,889.9 L143.6,895.8 L145.8,894.6 L147.9,887.7 L149.3,897.2 L150.6,900.1 L152.1,908.8 L153.6,896.9 L155.1,901.3 L157.3,901.3 L159.1,899.9 L161.5,900.1 L163.6,898.4 L165.7,881.5 L167.0,896.9 L168.8,894.9 L170.9,892.9 L172.3,885.7 L173.8,892.0 L175.7,891.0 L177.6,894.6 L179.0,885.2 L180.3,876.9 L181.8,888.4 L183.1,885.0 L184.8,893.1 L186.4,888.6 L188.3,884.6 L190.1,891.7 L192.4,888.0 L194.0,886.9 L195.3,890.1 L197.2,892.9 L198.7,889.9 L200.7,881.4 L202.5,884.7 L204.3,882.4 L205.8,884.2 L207.2,887.6 L208.8,882.5 L210.7,881.4 L212.4,881.6 L214.0,881.4 L216.2,883.2 L218.4,879.2 L220.4,865.5 L222.1,884.0 L224.1,885.6 L226.2,874.6 L228.1,897.9 L229.9,894.6 L231.9,897.6 L233.3,889.6 L235.4,906.5 L236.8,901.9 L238.2,884.2 L240.1,883.4 L241.9,881.5 L243.9,887.0 L246.2,886.4 L247.9,884.7 L249.5,862.1 L251.5,871.8 L253.3,875.0 L254.7,873.6 L257.0,881.7 L258.3,875.5 L260.1,878.5 L261.5,875.7 L262.9,872.2 L264.6,876.1 L266.8,875.3 L268.3,883.2 L269.8,876.2 L272.0,881.8 L273.3,876.7 L275.4,883.4 L276.7,872.7 L278.0,891.5 L280.0,886.7 L282.1,898.9 L283.7,875.8 L285.0,884.4 L287.2,883.2 L289.1,890.7 L291.2,894.1 L292.5,879.9 L293.9,883.2 L296.0,876.6 L297.7,879.3 L299.9,876.8 L301.5,877.1 L303.1,887.0 L305.0,883.1 L306.5,879.0 L308.4,886.3 L309.8,875.6 L311.6,873.4 L313.0,880.7 L314.9,877.6 L316.3,870.8 L318.4,867.0 L319.9,871.1 L321.3,864.4 L323.0,868.7 L324.9,877.2 L326.3,876.9 L328.1,885.6 L330.1,859.5 L331.7,860.7 L333.0,873.4 L334.5,853.6 L336.6,866.3 L338.6,860.2 L340.1,858.9 L341.9,860.1 L343.9,863.8 L346.1,860.4 L347.9,871.1 L349.7,855.2 L351.2,858.7 L352.8,849.8 L354.1,849.7 L355.9,835.2 L357.6,850.0 L359.3,850.0 L360.6,847.2 L362.7,835.1 L364.2,858.0 L366.2,841.1 L367.8,839.8 L369.4,854.9 L371.5,838.5 L373.0,839.3 L374.9,832.1 L376.2,834.9 L377.6,832.7 L379.5,827.7 L381.3,843.5 L383.5,829.4 L385.3,828.7 L387.5,827.5 L389.2,825.9 L391.4,822.6 L393.3,825.2 L395.2,816.3 L397.3,817.6 L399.4,819.6 L401.6,808.4 L403.3,815.6 L405.6,812.2 L407.4,809.7 L409.0,815.3 L410.4,807.7 L411.8,804.4 L413.5,808.4 L415.1,793.7 L417.1,805.6 L418.7,795.8 L420.1,807.8 L422.4,803.4 L424.2,814.5 L426.0,796.5 L428.3,794.9 L430.0,805.7 L431.9,796.3 L433.7,814.1 L435.5,798.6 L436.9,802.6 L438.8,782.9 L440.7,791.4 L442.9,792.9 L444.9,807.6 L446.2,793.3 L447.7,791.1 L449.5,781.5 L451.3,793.1 L453.4,780.6 L455.4,792.8 L457.6,789.4 L459.5,788.4 L461.7,803.8 L464.0,772.7 L465.6,778.0 L467.9,785.7 L470.1,790.4 L471.7,784.5 L473.0,775.6 L475.2,784.0 L476.8,795.1 L478.8,773.8 L480.9,784.7 L482.2,778.8 L483.5,767.6 L485.0,788.0 L487.0,788.4 L488.7,769.5 L490.1,777.1 L491.7,776.1 L493.8,772.3 L495.5,774.2 L497.7,775.1 L499.6,771.3 L501.3,774.3 L502.7,773.8 L503.9,773.2 L505.5,773.3 L506.9,771.2 L508.2,777.7 L510.3,773.9 L511.7,784.8 L513.2,784.7 L514.5,778.8 L516.4,773.9 L518.8,777.3 L521.1,773.9 L522.5,775.0 L524.1,775.7 L525.7,772.2 L527.3,777.8 L529.2,784.8 L530.9,771.7 L533.1,770.3 L535.4,774.5 L537.1,781.4 L539.4,785.8 L541.5,770.8 L543.6,774.6 L545.1,772.3 L547.3,771.3 L549.0,770.4 L550.8,773.6 L552.1,779.3 L554.0,764.6 L556.3,760.7 L558.2,760.8 L559.9,762.4 L561.7,764.0 L563.9,754.1 L565.8,754.1 L568.0,760.1 L569.4,756.0 L570.8,752.9" fill="none" stroke="#8b0000" stroke-width="2.3" stroke-linejoin="round" stroke-linecap="round" />
<ellipse cx="269.2" cy="649.2" rx="13.5" ry="59.8" fill="none" stroke="#000" stroke-width="2.2" stroke-dasharray="8,5"/>
<ellipse cx="358.2" cy="573.8" rx="19.3" ry="60.3" fill="none" stroke="#000" stroke-width="2.2" stroke-dasharray="8,5"/>
<ellipse cx="422.2" cy="570.2" rx="19.8" ry="60.8" fill="none" stroke="#000" stroke-width="2.2" stroke-dasharray="8,5"/>
<path d="M442.0,57.3 L488.0,57.3" fill="none" stroke="#000" stroke-width="3.8" stroke-linejoin="round" stroke-linecap="round" stroke-linecap="butt"/>
<path d="M508.5,57.3 L485.6,50.0 L485.6,64.6 Z" fill="#000"/>
<path d="M290.0,186.4 L320.0,186.4 L340.0,205.0" fill="none" stroke="#000" stroke-width="3.8" stroke-linejoin="round" stroke-linecap="round" stroke-linecap="butt" stroke-linejoin="miter"/>
<path d="M270.2,186.4 L292.0,179.1 L292.0,193.7 Z" fill="#000"/>
<path d="M194.0,352.6 L224.0,352.6" fill="none" stroke="#000" stroke-width="3.8" stroke-linejoin="round" stroke-linecap="round" stroke-linecap="butt"/>
<path d="M173.5,352.6 L196.4,345.3 L196.4,359.9 Z" fill="#000"/>
<path d="M424.2,320.3 L444.0,338.6 L491.0,338.6" fill="none" stroke="#000" stroke-width="3.8" stroke-linejoin="round" stroke-linecap="round" stroke-linecap="butt" stroke-linejoin="miter"/>
<path d="M510.5,338.6 L488.7,331.3 L488.7,345.9 Z" fill="#000"/>
<path d="M151.0,564.0 L181.8,564.0" fill="none" stroke="#000" stroke-width="3.8" stroke-linejoin="round" stroke-linecap="round" stroke-linecap="butt"/>
<path d="M132.0,564.0 L153.8,556.7 L153.8,571.3 Z" fill="#000"/>
<path d="M474.2,514.1 L521.0,514.1" fill="none" stroke="#000" stroke-width="3.8" stroke-linejoin="round" stroke-linecap="round" stroke-linecap="butt"/>
<path d="M540.7,514.1 L518.9,506.8 L518.9,521.4 Z" fill="#000"/>
<path d="M133.0,806.6 L164.6,806.6" fill="none" stroke="#000" stroke-width="3.8" stroke-linejoin="round" stroke-linecap="round" stroke-linecap="butt"/>
<path d="M113.8,806.6 L136.0,799.3 L136.0,813.9 Z" fill="#000"/>
<path d="M452.3,804.5 L472.0,823.2 L518.0,823.2" fill="none" stroke="#000" stroke-width="3.8" stroke-linejoin="round" stroke-linecap="round" stroke-linecap="butt" stroke-linejoin="miter"/>
<path d="M537.2,823.2 L515.7,815.9 L515.7,830.5 Z" fill="#000"/>
<rect x="109.0" y="14.4" width="464.5" height="222.4" fill="none" stroke="#000" stroke-width="5.5"/>
<rect x="198.40" y="14.40" width="7.00" height="22.00" fill="#000"/>
<rect x="198.40" y="214.80" width="7.00" height="22.00" fill="#000"/>
<rect x="322.27" y="14.40" width="7.00" height="22.00" fill="#000"/>
<rect x="322.27" y="214.80" width="7.00" height="22.00" fill="#000"/>
<rect x="446.13" y="14.40" width="7.00" height="22.00" fill="#000"/>
<rect x="446.13" y="214.80" width="7.00" height="22.00" fill="#000"/>
<rect x="570.00" y="14.40" width="7.00" height="22.00" fill="#000"/>
<rect x="570.00" y="214.80" width="7.00" height="22.00" fill="#000"/>
<rect x="109.00" y="233.50" width="22.00" height="7.00" fill="#000"/>
<rect x="109.00" y="150.10" width="22.00" height="7.00" fill="#000"/>
<rect x="109.00" y="66.70" width="22.00" height="7.00" fill="#000"/>
<rect x="551.50" y="47.90" width="22.00" height="7.00" fill="#000"/>
<rect x="551.50" y="122.50" width="22.00" height="7.00" fill="#000"/>
<rect x="551.50" y="195.80" width="22.00" height="7.00" fill="#000"/>
<text transform="translate(54.58,243.44) scale(1.0764,1)" font-family="Liberation Sans" font-style="normal" font-size="26.553" fill="#000" >0.0</text>
<text transform="translate(54.72,160.04) scale(1.0764,1)" font-family="Liberation Sans" font-style="normal" font-size="26.553" fill="#000" >0.6</text>
<text transform="translate(54.90,76.77) scale(1.0764,1)" font-family="Liberation Sans" font-style="normal" font-size="26.553" fill="#000" >1.2</text>
<text transform="translate(588.71,58.34) scale(1.0764,1)" font-family="Liberation Sans" font-style="normal" font-size="26.553" fill="#000" >3.1</text>
<text transform="translate(588.71,132.94) scale(1.0764,1)" font-family="Liberation Sans" font-style="normal" font-size="26.553" fill="#000" >3.0</text>
<text transform="translate(588.36,206.24) scale(1.0764,1)" font-family="Liberation Sans" font-style="normal" font-size="26.553" fill="#000" >2.9</text>
<rect x="109.0" y="254.4" width="464.5" height="222.4" fill="none" stroke="#000" stroke-width="5.5"/>
<rect x="198.40" y="254.40" width="7.00" height="22.00" fill="#000"/>
<rect x="198.40" y="454.80" width="7.00" height="22.00" fill="#000"/>
<rect x="322.27" y="254.40" width="7.00" height="22.00" fill="#000"/>
<rect x="322.27" y="454.80" width="7.00" height="22.00" fill="#000"/>
<rect x="446.13" y="254.40" width="7.00" height="22.00" fill="#000"/>
<rect x="446.13" y="454.80" width="7.00" height="22.00" fill="#000"/>
<rect x="570.00" y="254.40" width="7.00" height="22.00" fill="#000"/>
<rect x="570.00" y="454.80" width="7.00" height="22.00" fill="#000"/>
<rect x="109.00" y="473.50" width="22.00" height="7.00" fill="#000"/>
<rect x="109.00" y="390.10" width="22.00" height="7.00" fill="#000"/>
<rect x="109.00" y="306.70" width="22.00" height="7.00" fill="#000"/>
<rect x="551.50" y="309.50" width="22.00" height="7.00" fill="#000"/>
<rect x="551.50" y="375.10" width="22.00" height="7.00" fill="#000"/>
<rect x="551.50" y="440.20" width="22.00" height="7.00" fill="#000"/>
<text transform="translate(54.58,483.44) scale(1.0764,1)" font-family="Liberation Sans" font-style="normal" font-size="26.553" fill="#000" >0.0</text>
<text transform="translate(54.72,400.04) scale(1.0764,1)" font-family="Liberation Sans" font-style="normal" font-size="26.553" fill="#000" >0.6</text>
<text transform="translate(54.90,316.77) scale(1.0764,1)" font-family="Liberation Sans" font-style="normal" font-size="26.553" fill="#000" >1.2</text>
<text transform="translate(588.36,319.94) scale(1.0764,1)" font-family="Liberation Sans" font-style="normal" font-size="26.553" fill="#000" >2.9</text>
<text transform="translate(588.36,385.54) scale(1.0764,1)" font-family="Liberation Sans" font-style="normal" font-size="26.553" fill="#000" >2.8</text>
<text transform="translate(588.36,450.77) scale(1.0764,1)" font-family="Liberation Sans" font-style="normal" font-size="26.553" fill="#000" >2.7</text>
<rect x="109.0" y="494.4" width="464.5" height="222.4" fill="none" stroke="#000" stroke-width="5.5"/>
<rect x="198.40" y="494.40" width="7.00" height="22.00" fill="#000"/>
<rect x="198.40" y="694.80" width="7.00" height="22.00" fill="#000"/>
<rect x="322.27" y="494.40" width="7.00" height="22.00" fill="#000"/>
<rect x="322.27" y="694.80" width="7.00" height="22.00" fill="#000"/>
<rect x="446.13" y="494.40" width="7.00" height="22.00" fill="#000"/>
<rect x="446.13" y="694.80" width="7.00" height="22.00" fill="#000"/>
<rect x="570.00" y="494.40" width="7.00" height="22.00" fill="#000"/>
<rect x="570.00" y="694.80" width="7.00" height="22.00" fill="#000"/>
<rect x="109.00" y="713.50" width="22.00" height="7.00" fill="#000"/>
<rect x="109.00" y="630.10" width="22.00" height="7.00" fill="#000"/>
<rect x="109.00" y="546.70" width="22.00" height="7.00" fill="#000"/>
<rect x="551.50" y="545.20" width="22.00" height="7.00" fill="#000"/>
<rect x="551.50" y="604.40" width="22.00" height="7.00" fill="#000"/>
<rect x="551.50" y="664.80" width="22.00" height="7.00" fill="#000"/>
<text transform="translate(54.58,723.44) scale(1.0764,1)" font-family="Liberation Sans" font-style="normal" font-size="26.553" fill="#000" >0.0</text>
<text transform="translate(54.72,640.04) scale(1.0764,1)" font-family="Liberation Sans" font-style="normal" font-size="26.553" fill="#000" >0.6</text>
<text transform="translate(54.90,556.77) scale(1.0764,1)" font-family="Liberation Sans" font-style="normal" font-size="26.553" fill="#000" >1.2</text>
<text transform="translate(588.71,555.64) scale(1.0764,1)" font-family="Liberation Sans" font-style="normal" font-size="26.553" fill="#000" >3.0</text>
<text transform="translate(588.36,614.84) scale(1.0764,1)" font-family="Liberation Sans" font-style="normal" font-size="26.553" fill="#000" >2.9</text>
<text transform="translate(588.36,675.24) scale(1.0764,1)" font-family="Liberation Sans" font-style="normal" font-size="26.553" fill="#000" >2.8</text>
<rect x="109.0" y="734.4" width="464.5" height="222.4" fill="none" stroke="#000" stroke-width="5.5"/>
<rect x="198.40" y="734.40" width="7.00" height="22.00" fill="#000"/>
<rect x="198.40" y="934.80" width="7.00" height="22.00" fill="#000"/>
<rect x="322.27" y="734.40" width="7.00" height="22.00" fill="#000"/>
<rect x="322.27" y="934.80" width="7.00" height="22.00" fill="#000"/>
<rect x="446.13" y="734.40" width="7.00" height="22.00" fill="#000"/>
<rect x="446.13" y="934.80" width="7.00" height="22.00" fill="#000"/>
<rect x="570.00" y="734.40" width="7.00" height="22.00" fill="#000"/>
<rect x="570.00" y="934.80" width="7.00" height="22.00" fill="#000"/>
<rect x="109.00" y="953.50" width="22.00" height="7.00" fill="#000"/>
<rect x="109.00" y="870.10" width="22.00" height="7.00" fill="#000"/>
<rect x="109.00" y="786.70" width="22.00" height="7.00" fill="#000"/>
<rect x="551.50" y="775.00" width="22.00" height="7.00" fill="#000"/>
<rect x="551.50" y="863.40" width="22.00" height="7.00" fill="#000"/>
<rect x="551.50" y="953.30" width="22.00" height="7.00" fill="#000"/>
<text transform="translate(54.58,963.44) scale(1.0764,1)" font-family="Liberation Sans" font-style="normal" font-size="26.553" fill="#000" >0.0</text>
<text transform="translate(54.72,880.04) scale(1.0764,1)" font-family="Liberation Sans" font-style="normal" font-size="26.553" fill="#000" >0.6</text>
<text transform="translate(54.90,796.77) scale(1.0764,1)" font-family="Liberation Sans" font-style="normal" font-size="26.553" fill="#000" >1.2</text>
<text transform="translate(588.71,785.44) scale(1.0764,1)" font-family="Liberation Sans" font-style="normal" font-size="26.553" fill="#000" >3.2</text>
<text transform="translate(588.71,873.84) scale(1.0764,1)" font-family="Liberation Sans" font-style="normal" font-size="26.553" fill="#000" >3.0</text>
<text transform="translate(588.36,963.74) scale(1.0764,1)" font-family="Liberation Sans" font-style="normal" font-size="26.553" fill="#000" >2.8</text>
<text transform="translate(115.64,51.57) scale(0.8484,1)" font-family="Liberation Sans" font-style="normal" font-size="33.489" fill="#000" >(a)</text>
<text transform="translate(115.53,291.57) scale(0.9028,1)" font-family="Liberation Sans" font-style="normal" font-size="33.489" fill="#000" >(b)</text>
<text transform="translate(115.67,527.34) scale(0.8313,1)" font-family="Liberation Sans" font-style="normal" font-size="33.597" fill="#000" >(c)</text>
<text transform="translate(115.53,770.24) scale(0.8747,1)" font-family="Liberation Sans" font-style="normal" font-size="34.563" fill="#000" >(d)</text>
<text transform="translate(167.94,70.61) scale(0.8506,1)" font-family="Liberation Sans" font-style="normal" font-size="39.548" fill="#808080" >8MW</text>
<text transform="translate(155.35,312.64) scale(0.9469,1)" font-family="Liberation Sans" font-style="normal" font-size="36.723" fill="#008000" >10MW</text>
<text transform="translate(164.65,544.70) scale(0.9608,1)" font-family="Liberation Sans" font-style="normal" font-size="36.192" fill="#0070C0" >11MW</text>
<text transform="translate(161.55,785.80) scale(0.9348,1)" font-family="Liberation Sans" font-style="normal" font-size="37.236" fill="#C81000" >12MW</text>
<text transform="translate(166.46,994.66) scale(1.0694,1)" font-family="Liberation Sans" font-style="normal" font-size="34.322" fill="#000" >4.88</text>
<text transform="translate(290.77,994.47) scale(1.0678,1)" font-family="Liberation Sans" font-style="normal" font-size="33.898" fill="#000" >4.92</text>
<text transform="translate(414.06,994.47) scale(1.0737,1)" font-family="Liberation Sans" font-style="normal" font-size="33.898" fill="#000" >4.96</text>
<text transform="translate(538.24,994.47) scale(1.0791,1)" font-family="Liberation Sans" font-style="normal" font-size="33.898" fill="#000" >5.00</text>
<text transform="translate(292.04,1044.82) scale(1.0283,1)" font-family="Liberation Sans" font-style="normal" font-size="29.840" fill="#000" >time (s)</text>
<text transform="translate(30.72,694.14) rotate(-90) scale(0.9007,1)" font-family="Liberation Sans" font-style="normal" font-size="34.115" fill="#000" >Integrated PSD (a.u.)</text>
<text transform="translate(669.54,617.87) rotate(-90) scale(0.8169,1)" font-family="Liberation Sans" font-style="normal" font-size="36.905" fill="#000" >@ρ~0.45 (keV)</text>
<text transform="translate(669.00,660.94) rotate(-90) scale(0.9354,1)" font-family="Liberation Serif" font-style="italic" font-size="39.860" fill="#000" >T</text>
<text transform="translate(675.92,643.16) rotate(-90) scale(1.0729,1)" font-family="Liberation Serif" font-style="italic" font-size="29.109" fill="#000" >e</text>
<rect x="778.6" y="16.0" width="391.1" height="160.4" fill="none" stroke="#000" stroke-width="5"/>
<rect x="807.69" y="16.00" width="7.00" height="21.00" fill="#000"/>
<rect x="807.69" y="155.40" width="7.00" height="21.00" fill="#000"/>
<rect x="905.47" y="16.00" width="7.00" height="21.00" fill="#000"/>
<rect x="905.47" y="155.40" width="7.00" height="21.00" fill="#000"/>
<rect x="1003.24" y="16.00" width="7.00" height="21.00" fill="#000"/>
<rect x="1003.24" y="155.40" width="7.00" height="21.00" fill="#000"/>
<rect x="1101.02" y="16.00" width="7.00" height="21.00" fill="#000"/>
<rect x="1101.02" y="155.40" width="7.00" height="21.00" fill="#000"/>
<rect x="778.60" y="172.90" width="21.00" height="7.00" fill="#000"/>
<rect x="1148.70" y="172.90" width="21.00" height="7.00" fill="#000"/>
<text transform="translate(724.83,183.64) scale(1.0416,1)" font-family="Liberation Sans" font-style="normal" font-size="26.271" fill="#000" >0.0</text>
<rect x="778.60" y="132.80" width="21.00" height="7.00" fill="#000"/>
<rect x="1148.70" y="132.80" width="21.00" height="7.00" fill="#000"/>
<text transform="translate(725.10,143.54) scale(1.0416,1)" font-family="Liberation Sans" font-style="normal" font-size="26.271" fill="#000" >0.1</text>
<rect x="778.60" y="92.70" width="21.00" height="7.00" fill="#000"/>
<rect x="1148.70" y="92.70" width="21.00" height="7.00" fill="#000"/>
<text transform="translate(725.14,103.44) scale(1.0416,1)" font-family="Liberation Sans" font-style="normal" font-size="26.271" fill="#000" >0.2</text>
<rect x="778.60" y="52.60" width="21.00" height="7.00" fill="#000"/>
<rect x="1148.70" y="52.60" width="21.00" height="7.00" fill="#000"/>
<text transform="translate(724.96,63.34) scale(1.0416,1)" font-family="Liberation Sans" font-style="normal" font-size="26.271" fill="#000" >0.3</text>
<rect x="778.60" y="12.50" width="21.00" height="7.00" fill="#000"/>
<rect x="1148.70" y="12.50" width="21.00" height="7.00" fill="#000"/>
<text transform="translate(724.56,23.24) scale(1.0416,1)" font-family="Liberation Sans" font-style="normal" font-size="26.271" fill="#000" >0.4</text>
<path d="M778.6,93.4 C779.0,93.3 779.8,92.2 781.0,92.6 C782.2,93.0 784.1,95.0 786.0,96.0 C787.9,97.0 790.3,97.3 792.3,98.3 C794.3,99.3 795.5,101.1 798.0,102.0 C800.5,102.9 804.6,102.5 807.4,103.6 C810.2,104.7 812.1,106.4 815.0,108.7 C817.9,111.0 821.3,115.2 824.5,117.2 C827.7,119.2 829.9,120.0 834.0,121.0 C838.1,122.0 844.9,122.4 849.0,122.9 C853.1,123.4 855.7,124.1 858.5,123.8 C861.3,123.5 863.5,121.3 866.0,121.0 C868.5,120.7 870.4,122.3 873.6,122.0 C876.8,121.7 882.2,119.8 885.0,119.0 C887.8,118.2 888.7,118.8 890.6,117.2 C892.5,115.6 894.7,112.1 896.3,109.6 C897.9,107.1 898.5,104.6 900.0,102.0 C901.5,99.4 903.2,97.1 905.0,94.0 C906.8,90.9 909.0,87.3 910.7,83.6 C912.4,79.9 913.6,76.3 915.0,72.0 C916.4,67.7 917.7,62.3 919.0,58.0 C920.3,53.7 921.5,49.5 923.0,46.0 C924.5,42.5 926.2,38.2 928.0,37.0 C929.8,35.8 932.0,37.8 934.0,39.0 C936.0,40.2 938.3,42.1 940.1,44.0 C941.9,45.9 943.0,48.3 944.7,50.5 C946.4,52.7 948.8,55.7 950.3,57.0 C951.8,58.3 952.6,57.5 954.0,58.4 C955.4,59.3 957.1,60.3 958.6,62.5 C960.1,64.7 961.8,69.8 963.2,71.8 C964.6,73.8 965.4,74.3 966.9,74.5 C968.4,74.7 969.9,73.7 972.4,73.2 C974.9,72.7 978.6,70.9 981.7,71.3 C984.8,71.7 988.0,73.8 990.9,75.5 C993.8,77.2 997.0,80.3 999.2,81.2 C1001.4,82.1 1001.5,80.2 1004.0,81.0 C1006.5,81.8 1010.5,85.3 1014.0,85.8 C1017.5,86.3 1021.3,83.1 1025.0,84.0 C1028.7,84.9 1033.0,90.6 1036.0,91.4 C1039.0,92.2 1040.5,89.6 1043.0,89.0 C1045.5,88.4 1048.5,87.7 1051.0,87.7 C1053.5,87.7 1055.8,87.8 1058.3,89.0 C1060.8,90.2 1063.5,93.1 1066.0,95.0 C1068.5,96.9 1070.0,100.0 1073.0,100.6 C1076.0,101.2 1080.3,98.6 1084.0,98.8 C1087.7,99.0 1091.6,100.3 1095.3,101.5 C1099.0,102.7 1102.7,105.1 1106.4,106.2 C1110.1,107.3 1114.4,108.3 1117.5,108.0 C1120.6,107.7 1122.5,104.9 1125.0,104.3 C1127.5,103.7 1129.2,105.7 1132.3,104.5 C1135.4,103.3 1139.7,98.5 1143.4,96.9 C1147.1,95.3 1150.8,96.2 1154.5,95.0 C1158.2,93.8 1163.1,90.7 1165.6,89.5 C1168.1,88.3 1169.0,88.2 1169.7,88.0" fill="none" stroke="#000" stroke-width="3.2" stroke-linejoin="round"/>
<text transform="translate(794.68,61.87) scale(0.8537,1)" font-family="Liberation Sans" font-style="normal" font-size="34.455" fill="#000" >(e)</text>
<text transform="translate(1074.74,61.80) scale(1.0033,1)" font-family="Liberation Sans" font-style="normal" font-size="26.890" fill="#000" >11MW</text>
<text transform="translate(951.38,142.63) scale(1.0984,1)" font-family="Liberation Sans" font-style="normal" font-size="24.889" fill="#000" >Integrated PSD</text>
<text transform="translate(696.17,132.31) rotate(-90) scale(1.0052,1)" font-family="Liberation Sans" font-style="normal" font-size="30.591" fill="#000" >(a. u.)</text>
<rect x="778.6" y="192.0" width="391.1" height="336.5" fill="none" stroke="#000" stroke-width="5"/>
<rect x="807.69" y="192.00" width="7.00" height="21.00" fill="#000"/>
<rect x="807.69" y="507.50" width="7.00" height="21.00" fill="#000"/>
<rect x="905.47" y="192.00" width="7.00" height="21.00" fill="#000"/>
<rect x="905.47" y="507.50" width="7.00" height="21.00" fill="#000"/>
<rect x="1003.24" y="192.00" width="7.00" height="21.00" fill="#000"/>
<rect x="1003.24" y="507.50" width="7.00" height="21.00" fill="#000"/>
<rect x="1101.02" y="192.00" width="7.00" height="21.00" fill="#000"/>
<rect x="1101.02" y="507.50" width="7.00" height="21.00" fill="#000"/>
<rect x="778.60" y="524.90" width="21.00" height="7.00" fill="#000"/>
<rect x="1148.70" y="524.90" width="21.00" height="7.00" fill="#000"/>
<text transform="translate(725.33,536.70) scale(1.0616,1)" font-family="Liberation Sans" font-style="normal" font-size="25.847" fill="#000" >0.0</text>
<rect x="778.60" y="428.70" width="21.00" height="7.00" fill="#000"/>
<rect x="1148.70" y="428.70" width="21.00" height="7.00" fill="#000"/>
<text transform="translate(725.64,440.50) scale(1.0616,1)" font-family="Liberation Sans" font-style="normal" font-size="25.847" fill="#000" >0.2</text>
<rect x="778.60" y="332.50" width="21.00" height="7.00" fill="#000"/>
<rect x="1148.70" y="332.50" width="21.00" height="7.00" fill="#000"/>
<text transform="translate(725.06,344.30) scale(1.0616,1)" font-family="Liberation Sans" font-style="normal" font-size="25.847" fill="#000" >0.4</text>
<rect x="778.60" y="236.30" width="21.00" height="7.00" fill="#000"/>
<rect x="1148.70" y="236.30" width="21.00" height="7.00" fill="#000"/>
<text transform="translate(725.46,248.10) scale(1.0616,1)" font-family="Liberation Sans" font-style="normal" font-size="25.847" fill="#000" >0.6</text>
<rect x="792.00" y="555.40" width="19.00" height="2.40" fill="#000"/>
<text transform="translate(814.03,565.40) scale(1.0141,1)" font-family="Liberation Sans" font-style="normal" font-size="30.367" fill="#000" >3</text>
<text transform="translate(899.73,565.40) scale(1.0747,1)" font-family="Liberation Sans" font-style="normal" font-size="30.367" fill="#000" >0</text>
<text transform="translate(998.39,565.40) scale(1.0488,1)" font-family="Liberation Sans" font-style="normal" font-size="30.367" fill="#000" >3</text>
<text transform="translate(1095.54,565.40) scale(1.0776,1)" font-family="Liberation Sans" font-style="normal" font-size="30.367" fill="#000" >6</text>
<text transform="translate(937.24,614.78) scale(1.1072,1)" font-family="Liberation Sans" font-style="normal" font-size="29.088" fill="#000" >τ (ms)</text>
<text transform="translate(696.06,364.79) rotate(-90) scale(0.9299,1)" font-family="Liberation Sans" font-style="normal" font-size="31.497" fill="#000" >ρ</text>
<text transform="translate(795.66,243.47) scale(0.9834,1)" font-family="Liberation Sans" font-style="normal" font-size="33.489" fill="#000" >(f)</text>
<text transform="translate(1286.75,453.41) rotate(-90) scale(1.0492,1)" font-family="Liberation Sans" font-style="normal" font-size="29.640" fill="#000" >q</text>
<text transform="translate(1290.62,436.34) rotate(-90) scale(1.0645,1)" font-family="Liberation Sans" font-style="normal" font-size="18.618" fill="#000" >e</text>
<text transform="translate(1285.79,424.50) rotate(-90) scale(1.0343,1)" font-family="Liberation Sans" font-style="normal" font-size="31.319" fill="#000" >/</text>
<text transform="translate(1286.10,416.10) rotate(-90) scale(0.9521,1)" font-family="Liberation Sans" font-style="normal" font-size="28.434" fill="#000" >n</text>
<text transform="translate(1290.62,399.71) rotate(-90) scale(1.0187,1)" font-family="Liberation Sans" font-style="normal" font-size="18.618" fill="#000" >e</text>
<text transform="translate(1286.00,377.84) rotate(-90) scale(0.9315,1)" font-family="Liberation Sans" font-style="normal" font-size="31.879" fill="#000" >(keVm/s)</text>
<text transform="translate(1212.18,535.15) scale(1.0000,1)" font-family="Liberation Sans" font-style="normal" font-size="26.000" fill="#000" >0</text>
<text transform="translate(1212.16,423.68) scale(1.0000,1)" font-family="Liberation Sans" font-style="normal" font-size="26.000" fill="#000" >5</text>
<text transform="translate(1211.22,312.48) scale(1.0000,1)" font-family="Liberation Sans" font-style="normal" font-size="26.000" fill="#000" >10</text>
<text transform="translate(1211.22,201.02) scale(1.0000,1)" font-family="Liberation Sans" font-style="normal" font-size="26.000" fill="#000" >15</text>
<path d="M797.6,942.0 L800.4,938.9 L831.6,909.8 L873.2,876.5 L904.4,849.5 L935.6,812.0 L950.0,792.0 L967.0,772.0 L985.4,745.7 L1017.3,717.3 L1045.7,688.1 L1074.0,673.0 L1091.8,669.1 L1109.5,668.6 L1134.3,670.9 L1171.5,672.2 L1171.5,786.1 L1127.2,784.7 L1091.8,782.9 L1074.0,785.6 L1043.9,798.9 L1029.2,812.0 L998.0,847.4 L966.8,882.7 L935.6,909.8 L904.4,934.7 L879.5,943.0 L870.0,948.0 L850.0,951.0 L830.0,950.5 L810.0,948.5 L797.6,944.0 Z" fill="#c0c0fc" stroke="#9a9af6" stroke-width="2.4"/>
<path d="M797.6,942.5 L810.8,938.9 L842.0,926.4 L869.0,911.9 L898.2,891.1 L925.2,870.3 L960.6,832.8 L987.2,801.5 L1020.9,765.2 L1045.7,743.9 L1074.0,729.7 L1091.8,726.2 L1106.0,725.3 L1127.2,727.1 L1153.8,728.9 L1172.4,728.9" fill="none" stroke="#0000f2" stroke-width="3.8" stroke-linejoin="round" stroke-linecap="round" />
<line x1="773" y1="940.8" x2="1210" y2="940.8" stroke="#000" stroke-width="2" stroke-dasharray="8,6"/>
<path d="M797.2,942.3 L809.6,943.0 L823.8,943.0 L844.0,943.3 L868.0,944.0 L896.4,944.7 L919.5,946.9 L932.6,946.9 L956.7,933.4 L971.6,917.5 L983.3,899.7 L996.7,881.0 L1012.3,865.4 L1027.6,853.7 L1043.5,847.6 L1073.6,846.6 L1089.6,852.6 L1107.3,859.7 L1123.3,866.0 L1139.2,871.4 L1155.2,876.0 L1171.0,880.3" fill="none" stroke="#1f77b4" stroke-width="3.0" stroke-linejoin="round" stroke-linecap="round" />
<line x1="785.7" y1="942.3" x2="808.7" y2="942.3" stroke="#1f77b4" stroke-width="3"/>
<line x1="785.7" y1="942.3" x2="808.7" y2="942.3" stroke="#1f77b4" stroke-width="3"/>
<line x1="797.2" y1="942.3" x2="797.2" y2="942.3" stroke="#1f77b4" stroke-width="2"/>
<circle cx="797.2" cy="942.3" r="5.2" fill="#1f77b4"/>
<line x1="798.1" y1="943.0" x2="821.1" y2="943.0" stroke="#1f77b4" stroke-width="3"/>
<line x1="798.1" y1="943.0" x2="821.1" y2="943.0" stroke="#1f77b4" stroke-width="3"/>
<line x1="809.6" y1="943.0" x2="809.6" y2="943.0" stroke="#1f77b4" stroke-width="2"/>
<circle cx="809.6" cy="943.0" r="5.2" fill="#1f77b4"/>
<line x1="812.3" y1="943.0" x2="835.3" y2="943.0" stroke="#1f77b4" stroke-width="3"/>
<line x1="812.3" y1="943.0" x2="835.3" y2="943.0" stroke="#1f77b4" stroke-width="3"/>
<line x1="823.8" y1="943.0" x2="823.8" y2="943.0" stroke="#1f77b4" stroke-width="2"/>
<circle cx="823.8" cy="943.0" r="5.2" fill="#1f77b4"/>
<line x1="832.5" y1="943.3" x2="855.5" y2="943.3" stroke="#1f77b4" stroke-width="3"/>
<line x1="832.5" y1="943.3" x2="855.5" y2="943.3" stroke="#1f77b4" stroke-width="3"/>
<line x1="844.0" y1="943.3" x2="844.0" y2="943.3" stroke="#1f77b4" stroke-width="2"/>
<circle cx="844.0" cy="943.3" r="5.2" fill="#1f77b4"/>
<line x1="856.5" y1="943.5" x2="879.5" y2="943.5" stroke="#1f77b4" stroke-width="3"/>
<line x1="856.5" y1="944.5" x2="879.5" y2="944.5" stroke="#1f77b4" stroke-width="3"/>
<line x1="868.0" y1="943.5" x2="868.0" y2="944.5" stroke="#1f77b4" stroke-width="2"/>
<circle cx="868.0" cy="944.0" r="5.2" fill="#1f77b4"/>
<line x1="884.9" y1="943.7" x2="907.9" y2="943.7" stroke="#1f77b4" stroke-width="3"/>
<line x1="884.9" y1="945.7" x2="907.9" y2="945.7" stroke="#1f77b4" stroke-width="3"/>
<line x1="896.4" y1="943.7" x2="896.4" y2="945.7" stroke="#1f77b4" stroke-width="2"/>
<circle cx="896.4" cy="944.7" r="5.2" fill="#1f77b4"/>
<line x1="908.0" y1="944.9" x2="931.0" y2="944.9" stroke="#1f77b4" stroke-width="3"/>
<line x1="908.0" y1="948.9" x2="931.0" y2="948.9" stroke="#1f77b4" stroke-width="3"/>
<line x1="919.5" y1="944.9" x2="919.5" y2="948.9" stroke="#1f77b4" stroke-width="2"/>
<circle cx="919.5" cy="946.9" r="5.2" fill="#1f77b4"/>
<line x1="921.1" y1="944.4" x2="944.1" y2="944.4" stroke="#1f77b4" stroke-width="3"/>
<line x1="921.1" y1="949.4" x2="944.1" y2="949.4" stroke="#1f77b4" stroke-width="3"/>
<line x1="932.6" y1="944.4" x2="932.6" y2="949.4" stroke="#1f77b4" stroke-width="2"/>
<circle cx="932.6" cy="946.9" r="5.2" fill="#1f77b4"/>
<line x1="945.2" y1="930.4" x2="968.2" y2="930.4" stroke="#1f77b4" stroke-width="3"/>
<line x1="945.2" y1="936.4" x2="968.2" y2="936.4" stroke="#1f77b4" stroke-width="3"/>
<line x1="956.7" y1="930.4" x2="956.7" y2="936.4" stroke="#1f77b4" stroke-width="2"/>
<circle cx="956.7" cy="933.4" r="5.2" fill="#1f77b4"/>
<line x1="960.1" y1="914.3" x2="983.1" y2="914.3" stroke="#1f77b4" stroke-width="3"/>
<line x1="960.1" y1="920.7" x2="983.1" y2="920.7" stroke="#1f77b4" stroke-width="3"/>
<line x1="971.6" y1="914.3" x2="971.6" y2="920.7" stroke="#1f77b4" stroke-width="2"/>
<circle cx="971.6" cy="917.5" r="5.2" fill="#1f77b4"/>
<line x1="971.8" y1="896.3" x2="994.8" y2="896.3" stroke="#1f77b4" stroke-width="3"/>
<line x1="971.8" y1="903.1" x2="994.8" y2="903.1" stroke="#1f77b4" stroke-width="3"/>
<line x1="983.3" y1="896.3" x2="983.3" y2="903.1" stroke="#1f77b4" stroke-width="2"/>
<circle cx="983.3" cy="899.7" r="5.2" fill="#1f77b4"/>
<line x1="985.2" y1="877.5" x2="1008.2" y2="877.5" stroke="#1f77b4" stroke-width="3"/>
<line x1="985.2" y1="884.5" x2="1008.2" y2="884.5" stroke="#1f77b4" stroke-width="3"/>
<line x1="996.7" y1="877.5" x2="996.7" y2="884.5" stroke="#1f77b4" stroke-width="2"/>
<circle cx="996.7" cy="881.0" r="5.2" fill="#1f77b4"/>
<line x1="1000.8" y1="861.9" x2="1023.8" y2="861.9" stroke="#1f77b4" stroke-width="3"/>
<line x1="1000.8" y1="868.9" x2="1023.8" y2="868.9" stroke="#1f77b4" stroke-width="3"/>
<line x1="1012.3" y1="861.9" x2="1012.3" y2="868.9" stroke="#1f77b4" stroke-width="2"/>
<circle cx="1012.3" cy="865.4" r="5.2" fill="#1f77b4"/>
<line x1="1016.1" y1="850.2" x2="1039.1" y2="850.2" stroke="#1f77b4" stroke-width="3"/>
<line x1="1016.1" y1="857.2" x2="1039.1" y2="857.2" stroke="#1f77b4" stroke-width="3"/>
<line x1="1027.6" y1="850.2" x2="1027.6" y2="857.2" stroke="#1f77b4" stroke-width="2"/>
<circle cx="1027.6" cy="853.7" r="5.2" fill="#1f77b4"/>
<line x1="1032.0" y1="844.1" x2="1055.0" y2="844.1" stroke="#1f77b4" stroke-width="3"/>
<line x1="1032.0" y1="851.1" x2="1055.0" y2="851.1" stroke="#1f77b4" stroke-width="3"/>
<line x1="1043.5" y1="844.1" x2="1043.5" y2="851.1" stroke="#1f77b4" stroke-width="2"/>
<circle cx="1043.5" cy="847.6" r="5.2" fill="#1f77b4"/>
<line x1="1062.1" y1="843.1" x2="1085.1" y2="843.1" stroke="#1f77b4" stroke-width="3"/>
<line x1="1062.1" y1="850.1" x2="1085.1" y2="850.1" stroke="#1f77b4" stroke-width="3"/>
<line x1="1073.6" y1="843.1" x2="1073.6" y2="850.1" stroke="#1f77b4" stroke-width="2"/>
<circle cx="1073.6" cy="846.6" r="5.2" fill="#1f77b4"/>
<line x1="1078.1" y1="849.1" x2="1101.1" y2="849.1" stroke="#1f77b4" stroke-width="3"/>
<line x1="1078.1" y1="856.1" x2="1101.1" y2="856.1" stroke="#1f77b4" stroke-width="3"/>
<line x1="1089.6" y1="849.1" x2="1089.6" y2="856.1" stroke="#1f77b4" stroke-width="2"/>
<circle cx="1089.6" cy="852.6" r="5.2" fill="#1f77b4"/>
<line x1="1095.8" y1="856.2" x2="1118.8" y2="856.2" stroke="#1f77b4" stroke-width="3"/>
<line x1="1095.8" y1="863.2" x2="1118.8" y2="863.2" stroke="#1f77b4" stroke-width="3"/>
<line x1="1107.3" y1="856.2" x2="1107.3" y2="863.2" stroke="#1f77b4" stroke-width="2"/>
<circle cx="1107.3" cy="859.7" r="5.2" fill="#1f77b4"/>
<line x1="1111.8" y1="862.5" x2="1134.8" y2="862.5" stroke="#1f77b4" stroke-width="3"/>
<line x1="1111.8" y1="869.5" x2="1134.8" y2="869.5" stroke="#1f77b4" stroke-width="3"/>
<line x1="1123.3" y1="862.5" x2="1123.3" y2="869.5" stroke="#1f77b4" stroke-width="2"/>
<circle cx="1123.3" cy="866.0" r="5.2" fill="#1f77b4"/>
<line x1="1127.7" y1="867.9" x2="1150.7" y2="867.9" stroke="#1f77b4" stroke-width="3"/>
<line x1="1127.7" y1="874.9" x2="1150.7" y2="874.9" stroke="#1f77b4" stroke-width="3"/>
<line x1="1139.2" y1="867.9" x2="1139.2" y2="874.9" stroke="#1f77b4" stroke-width="2"/>
<circle cx="1139.2" cy="871.4" r="5.2" fill="#1f77b4"/>
<line x1="1143.7" y1="872.5" x2="1166.7" y2="872.5" stroke="#1f77b4" stroke-width="3"/>
<line x1="1143.7" y1="879.5" x2="1166.7" y2="879.5" stroke="#1f77b4" stroke-width="3"/>
<line x1="1155.2" y1="872.5" x2="1155.2" y2="879.5" stroke="#1f77b4" stroke-width="2"/>
<circle cx="1155.2" cy="876.0" r="5.2" fill="#1f77b4"/>
<line x1="1159.5" y1="876.8" x2="1182.5" y2="876.8" stroke="#1f77b4" stroke-width="3"/>
<line x1="1159.5" y1="883.8" x2="1182.5" y2="883.8" stroke="#1f77b4" stroke-width="3"/>
<line x1="1171.0" y1="876.8" x2="1171.0" y2="883.8" stroke="#1f77b4" stroke-width="2"/>
<circle cx="1171.0" cy="880.3" r="5.2" fill="#1f77b4"/>
<rect x="770.8" y="636.3" width="444.2" height="326.3" fill="none" stroke="#000" stroke-width="5.5"/>
<rect x="767.30" y="946.60" width="7.00" height="16.00" fill="#000"/>
<text transform="translate(750.00,998.72) scale(1.0687,1)" font-family="Liberation Sans" font-style="normal" font-size="28.813" fill="#000" >0.0</text>
<rect x="878.80" y="946.60" width="7.00" height="16.00" fill="#000"/>
<text transform="translate(861.67,998.72) scale(1.0687,1)" font-family="Liberation Sans" font-style="normal" font-size="28.813" fill="#000" >0.2</text>
<rect x="990.30" y="946.60" width="7.00" height="16.00" fill="#000"/>
<text transform="translate(972.85,998.72) scale(1.0687,1)" font-family="Liberation Sans" font-style="normal" font-size="28.813" fill="#000" >0.4</text>
<rect x="1101.80" y="946.60" width="7.00" height="16.00" fill="#000"/>
<text transform="translate(1084.57,998.72) scale(1.0687,1)" font-family="Liberation Sans" font-style="normal" font-size="28.813" fill="#000" >0.6</text>
<rect x="1213.30" y="946.60" width="7.00" height="16.00" fill="#000"/>
<text transform="translate(1196.06,998.72) scale(1.0687,1)" font-family="Liberation Sans" font-style="normal" font-size="28.813" fill="#000" >0.8</text>
<rect x="770.80" y="937.90" width="16.00" height="7.00" fill="#000"/>
<text transform="translate(713.72,952.22) scale(1.0502,1)" font-family="Liberation Sans" font-style="normal" font-size="28.813" fill="#000" >0.0</text>
<rect x="770.80" y="850.70" width="16.00" height="7.00" fill="#000"/>
<text transform="translate(714.06,865.02) scale(1.0502,1)" font-family="Liberation Sans" font-style="normal" font-size="28.813" fill="#000" >0.2</text>
<rect x="770.80" y="763.50" width="16.00" height="7.00" fill="#000"/>
<text transform="translate(713.42,777.82) scale(1.0502,1)" font-family="Liberation Sans" font-style="normal" font-size="28.813" fill="#000" >0.4</text>
<rect x="770.80" y="676.30" width="16.00" height="7.00" fill="#000"/>
<text transform="translate(713.87,690.62) scale(1.0502,1)" font-family="Liberation Sans" font-style="normal" font-size="28.813" fill="#000" >0.6</text>
<text transform="translate(788.86,679.26) scale(0.8757,1)" font-family="Liberation Sans" font-style="normal" font-size="33.901" fill="#000" >(g)</text>
<text transform="translate(1125.55,669.60) scale(0.9966,1)" font-family="Liberation Sans" font-style="normal" font-size="27.035" fill="#000" >11MW</text>
<text transform="translate(984.33,1045.12) scale(0.9975,1)" font-family="Liberation Sans" font-style="normal" font-size="32.168" fill="#000" >ρ</text>
<text transform="translate(686.48,843.99) rotate(-90) scale(1.1372,1)" font-family="Liberation Sans" font-style="normal" font-size="31.021" fill="#000" >(MW)</text>
<text transform="translate(902.74,716.00) scale(0.9947,1)" font-family="Liberation Serif" font-style="normal" font-size="38.627" fill="#1c1ce6" >Δ</text>
<text transform="translate(921.18,715.42) scale(1.1222,1)" font-family="Liberation Serif" font-style="italic" font-size="38.064" fill="#1c1ce6" >W</text>
<text transform="translate(952.05,722.72) scale(1.0785,1)" font-family="Liberation Serif" font-style="italic" font-size="28.485" fill="#1c1ce6" >e</text>
<rect x="904.20" y="732.60" width="66.60" height="4.10" fill="#1c1ce6"/>
<text transform="translate(917.08,767.40) scale(0.9122,1)" font-family="Liberation Serif" font-style="normal" font-size="37.870" fill="#1c1ce6" >Δ</text>
<text transform="translate(939.53,767.02) scale(1.1584,1)" font-family="Liberation Serif" font-style="italic" font-size="38.760" fill="#1c1ce6" >t</text>
<text transform="translate(1025.34,910.63) scale(1.0339,1)" font-family="Liberation Serif" font-style="italic" font-size="38.102" fill="#1f6fbf" >S</text>
<circle cx="1058.5" cy="900.2" r="2.3" fill="#1f6fbf"/>
<rect x="1075.50" y="886.30" width="16.00" height="2.30" fill="#1f6fbf"/>
<text transform="translate(1072.38,910.12) scale(1.0325,1)" font-family="Liberation Serif" font-style="italic" font-size="38.446" fill="#1f6fbf" >q</text>
<text transform="translate(1091.69,917.35) scale(1.3152,1)" font-family="Liberation Serif" font-style="italic" font-size="25.010" fill="#1f6fbf" >e,burst</text>
</svg>
</body></html>
